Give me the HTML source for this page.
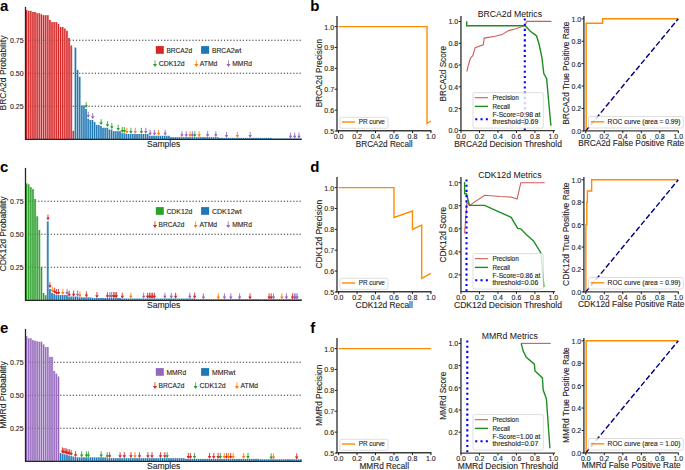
<!DOCTYPE html><html><head><meta charset="utf-8"><title>Figure</title><style>html,body{margin:0;padding:0;background:#fff;}svg{display:block;}text{font-family:"Liberation Sans",sans-serif;}</style></head><body><svg width="685" height="470" viewBox="0 0 685 470" font-family="Liberation Sans, sans-serif">
<rect width="685" height="470" fill="#ffffff"/>
<line x1="25.55" y1="40.20" x2="301.20" y2="40.20" stroke="#4a4a4a" stroke-width="1.15" stroke-dasharray="1.15 2.0"/>
<line x1="25.55" y1="73.20" x2="301.20" y2="73.20" stroke="#4a4a4a" stroke-width="1.15" stroke-dasharray="1.15 2.0"/>
<line x1="25.55" y1="106.20" x2="301.20" y2="106.20" stroke="#4a4a4a" stroke-width="1.15" stroke-dasharray="1.15 2.0"/>
<rect x="25.50" y="10.00" width="2.12" height="129.30" fill="#d62728" />
<rect x="27.62" y="10.90" width="2.12" height="128.40" fill="#d62728" />
<rect x="29.75" y="10.90" width="2.12" height="128.40" fill="#d62728" />
<rect x="31.87" y="12.00" width="2.12" height="127.30" fill="#d62728" />
<rect x="34.00" y="12.00" width="2.12" height="127.30" fill="#d62728" />
<rect x="36.12" y="13.20" width="2.12" height="126.10" fill="#d62728" />
<rect x="38.25" y="13.20" width="2.12" height="126.10" fill="#d62728" />
<rect x="40.37" y="14.30" width="2.12" height="125.00" fill="#d62728" />
<rect x="42.50" y="15.20" width="2.12" height="124.10" fill="#d62728" />
<rect x="44.62" y="15.20" width="2.12" height="124.10" fill="#d62728" />
<rect x="46.75" y="15.20" width="2.12" height="124.10" fill="#d62728" />
<rect x="48.87" y="20.00" width="2.12" height="119.30" fill="#d62728" />
<rect x="51.00" y="22.10" width="2.12" height="117.20" fill="#d62728" />
<rect x="53.12" y="22.10" width="2.12" height="117.20" fill="#d62728" />
<rect x="55.24" y="22.10" width="2.12" height="117.20" fill="#d62728" />
<rect x="57.37" y="23.90" width="2.12" height="115.40" fill="#d62728" />
<rect x="59.49" y="27.00" width="2.12" height="112.30" fill="#d62728" />
<rect x="61.62" y="27.00" width="2.12" height="112.30" fill="#d62728" />
<rect x="63.74" y="28.50" width="2.12" height="110.80" fill="#d62728" />
<rect x="65.87" y="30.80" width="2.12" height="108.50" fill="#d62728" />
<rect x="67.99" y="38.00" width="2.12" height="101.30" fill="#d62728" />
<rect x="70.12" y="45.40" width="2.12" height="93.90" fill="#d62728" />
<rect x="72.24" y="130.80" width="2.12" height="8.50" fill="#d62728" />
<rect x="74.37" y="47.60" width="2.12" height="91.70" fill="#1f77b4" />
<rect x="76.49" y="69.90" width="2.12" height="69.40" fill="#1f77b4" />
<rect x="78.62" y="76.80" width="2.12" height="62.50" fill="#1f77b4" />
<rect x="80.74" y="105.50" width="2.12" height="33.80" fill="#1f77b4" />
<rect x="82.86" y="105.50" width="2.12" height="33.80" fill="#1f77b4" />
<rect x="84.99" y="109.00" width="2.12" height="30.30" fill="#1f77b4" />
<rect x="87.11" y="118.70" width="2.12" height="20.60" fill="#1f77b4" />
<rect x="89.24" y="120.00" width="2.12" height="19.30" fill="#1f77b4" />
<rect x="91.36" y="120.00" width="2.12" height="19.30" fill="#1f77b4" />
<rect x="93.49" y="122.00" width="2.12" height="17.30" fill="#1f77b4" />
<rect x="95.61" y="124.90" width="2.12" height="14.40" fill="#1f77b4" />
<rect x="97.74" y="124.90" width="2.12" height="14.40" fill="#1f77b4" />
<rect x="99.86" y="126.00" width="2.12" height="13.30" fill="#1f77b4" />
<rect x="101.99" y="127.80" width="2.12" height="11.50" fill="#1f77b4" />
<rect x="104.11" y="127.80" width="2.12" height="11.50" fill="#1f77b4" />
<rect x="106.24" y="127.80" width="2.12" height="11.50" fill="#1f77b4" />
<rect x="108.36" y="129.60" width="2.12" height="9.70" fill="#1f77b4" />
<rect x="110.48" y="129.60" width="2.12" height="9.70" fill="#1f77b4" />
<rect x="112.61" y="131.20" width="2.12" height="8.10" fill="#1f77b4" />
<rect x="114.73" y="131.20" width="2.12" height="8.10" fill="#1f77b4" />
<rect x="116.86" y="131.20" width="2.12" height="8.10" fill="#1f77b4" />
<rect x="118.98" y="131.20" width="2.12" height="8.10" fill="#1f77b4" />
<rect x="121.11" y="133.20" width="2.12" height="6.10" fill="#1f77b4" />
<rect x="123.23" y="133.20" width="2.12" height="6.10" fill="#1f77b4" />
<rect x="125.36" y="134.00" width="2.12" height="5.30" fill="#1f77b4" />
<rect x="127.48" y="134.00" width="2.12" height="5.30" fill="#1f77b4" />
<rect x="129.61" y="134.00" width="2.12" height="5.30" fill="#1f77b4" />
<rect x="131.73" y="134.00" width="2.12" height="5.30" fill="#1f77b4" />
<rect x="133.86" y="134.00" width="2.12" height="5.30" fill="#1f77b4" />
<rect x="135.98" y="134.00" width="2.12" height="5.30" fill="#1f77b4" />
<rect x="138.10" y="134.00" width="2.12" height="5.30" fill="#1f77b4" />
<rect x="140.23" y="134.00" width="2.12" height="5.30" fill="#1f77b4" />
<rect x="142.35" y="134.00" width="2.12" height="5.30" fill="#1f77b4" />
<rect x="144.48" y="134.00" width="2.12" height="5.30" fill="#1f77b4" />
<rect x="146.60" y="134.00" width="2.12" height="5.30" fill="#1f77b4" />
<rect x="148.73" y="135.80" width="2.12" height="3.50" fill="#1f77b4" />
<rect x="150.85" y="135.80" width="2.12" height="3.50" fill="#1f77b4" />
<rect x="152.98" y="135.80" width="2.12" height="3.50" fill="#1f77b4" />
<rect x="155.10" y="135.80" width="2.12" height="3.50" fill="#1f77b4" />
<rect x="157.23" y="135.80" width="2.12" height="3.50" fill="#1f77b4" />
<rect x="159.35" y="135.80" width="2.12" height="3.50" fill="#1f77b4" />
<rect x="161.48" y="135.80" width="2.12" height="3.50" fill="#1f77b4" />
<rect x="163.60" y="135.80" width="2.12" height="3.50" fill="#1f77b4" />
<rect x="165.72" y="135.80" width="2.12" height="3.50" fill="#1f77b4" />
<rect x="167.85" y="135.80" width="2.12" height="3.50" fill="#1f77b4" />
<rect x="169.97" y="137.20" width="2.12" height="2.10" fill="#1f77b4" />
<rect x="172.10" y="137.20" width="2.12" height="2.10" fill="#1f77b4" />
<rect x="174.22" y="137.20" width="2.12" height="2.10" fill="#1f77b4" />
<rect x="176.35" y="137.20" width="2.12" height="2.10" fill="#1f77b4" />
<rect x="178.47" y="137.20" width="2.12" height="2.10" fill="#1f77b4" />
<rect x="180.60" y="137.20" width="2.12" height="2.10" fill="#1f77b4" />
<rect x="182.72" y="137.20" width="2.12" height="2.10" fill="#1f77b4" />
<rect x="184.85" y="137.20" width="2.12" height="2.10" fill="#1f77b4" />
<rect x="186.97" y="137.20" width="2.12" height="2.10" fill="#1f77b4" />
<rect x="189.10" y="137.20" width="2.12" height="2.10" fill="#1f77b4" />
<rect x="191.22" y="137.20" width="2.12" height="2.10" fill="#1f77b4" />
<rect x="193.34" y="137.20" width="2.12" height="2.10" fill="#1f77b4" />
<rect x="195.47" y="137.20" width="2.12" height="2.10" fill="#1f77b4" />
<rect x="197.59" y="137.20" width="2.12" height="2.10" fill="#1f77b4" />
<rect x="199.72" y="137.20" width="2.12" height="2.10" fill="#1f77b4" />
<rect x="201.84" y="137.20" width="2.12" height="2.10" fill="#1f77b4" />
<rect x="203.97" y="137.20" width="2.12" height="2.10" fill="#1f77b4" />
<rect x="206.09" y="137.20" width="2.12" height="2.10" fill="#1f77b4" />
<rect x="208.22" y="137.20" width="2.12" height="2.10" fill="#1f77b4" />
<rect x="210.34" y="137.20" width="2.12" height="2.10" fill="#1f77b4" />
<rect x="212.47" y="137.20" width="2.12" height="2.10" fill="#1f77b4" />
<rect x="214.59" y="137.20" width="2.12" height="2.10" fill="#1f77b4" />
<rect x="216.72" y="137.20" width="2.12" height="2.10" fill="#1f77b4" />
<rect x="218.84" y="137.90" width="2.12" height="1.40" fill="#1f77b4" />
<rect x="220.96" y="137.90" width="2.12" height="1.40" fill="#1f77b4" />
<rect x="223.09" y="137.90" width="2.12" height="1.40" fill="#1f77b4" />
<rect x="225.21" y="137.90" width="2.12" height="1.40" fill="#1f77b4" />
<rect x="227.34" y="137.90" width="2.12" height="1.40" fill="#1f77b4" />
<rect x="229.46" y="137.90" width="2.12" height="1.40" fill="#1f77b4" />
<rect x="231.59" y="137.90" width="2.12" height="1.40" fill="#1f77b4" />
<rect x="233.71" y="137.90" width="2.12" height="1.40" fill="#1f77b4" />
<rect x="235.84" y="137.90" width="2.12" height="1.40" fill="#1f77b4" />
<rect x="237.96" y="137.90" width="2.12" height="1.40" fill="#1f77b4" />
<rect x="240.09" y="137.90" width="2.12" height="1.40" fill="#1f77b4" />
<rect x="242.21" y="137.90" width="2.12" height="1.40" fill="#1f77b4" />
<rect x="244.34" y="137.90" width="2.12" height="1.40" fill="#1f77b4" />
<rect x="246.46" y="137.90" width="2.12" height="1.40" fill="#1f77b4" />
<rect x="248.58" y="137.90" width="2.12" height="1.40" fill="#1f77b4" />
<rect x="250.71" y="137.90" width="2.12" height="1.40" fill="#1f77b4" />
<rect x="252.83" y="137.90" width="2.12" height="1.40" fill="#1f77b4" />
<rect x="254.96" y="137.90" width="2.12" height="1.40" fill="#1f77b4" />
<rect x="257.08" y="137.90" width="2.12" height="1.40" fill="#1f77b4" />
<rect x="259.21" y="137.90" width="2.12" height="1.40" fill="#1f77b4" />
<rect x="261.33" y="137.90" width="2.12" height="1.40" fill="#1f77b4" />
<rect x="263.46" y="137.90" width="2.12" height="1.40" fill="#1f77b4" />
<rect x="265.58" y="137.90" width="2.12" height="1.40" fill="#1f77b4" />
<rect x="267.71" y="137.90" width="2.12" height="1.40" fill="#1f77b4" />
<rect x="269.83" y="137.90" width="2.12" height="1.40" fill="#1f77b4" />
<rect x="271.96" y="138.50" width="2.12" height="0.80" fill="#1f77b4" />
<rect x="274.08" y="138.50" width="2.12" height="0.80" fill="#1f77b4" />
<rect x="276.20" y="138.50" width="2.12" height="0.80" fill="#1f77b4" />
<rect x="278.33" y="138.50" width="2.12" height="0.80" fill="#1f77b4" />
<rect x="280.45" y="138.50" width="2.12" height="0.80" fill="#1f77b4" />
<rect x="282.58" y="138.50" width="2.12" height="0.80" fill="#1f77b4" />
<rect x="284.70" y="138.50" width="2.12" height="0.80" fill="#1f77b4" />
<rect x="286.83" y="138.50" width="2.12" height="0.80" fill="#1f77b4" />
<rect x="288.95" y="138.50" width="2.12" height="0.80" fill="#1f77b4" />
<rect x="291.08" y="138.50" width="2.12" height="0.80" fill="#1f77b4" />
<rect x="293.20" y="138.50" width="2.12" height="0.80" fill="#1f77b4" />
<rect x="295.33" y="138.50" width="2.12" height="0.80" fill="#1f77b4" />
<rect x="297.45" y="138.50" width="2.12" height="0.80" fill="#1f77b4" />
<rect x="299.58" y="138.50" width="2.12" height="0.80" fill="#1f77b4" />
<path d="M27.62,10.00V139.30 M29.75,10.90V139.30 M31.87,10.90V139.30 M34.00,12.00V139.30 M36.12,12.00V139.30 M38.25,13.20V139.30 M40.37,13.20V139.30 M42.50,14.30V139.30 M44.62,15.20V139.30 M46.75,15.20V139.30 M48.87,15.20V139.30 M51.00,20.00V139.30 M53.12,22.10V139.30 M55.24,22.10V139.30 M57.37,22.10V139.30 M59.49,23.90V139.30 M61.62,27.00V139.30 M63.74,27.00V139.30 M65.87,28.50V139.30 M67.99,30.80V139.30 M70.12,38.00V139.30 M72.24,45.40V139.30 M74.37,47.60V139.30 M76.49,47.60V139.30 M78.62,69.90V139.30 M80.74,76.80V139.30 M82.86,105.50V139.30 M84.99,105.50V139.30 M87.11,109.00V139.30 M89.24,118.70V139.30 M91.36,120.00V139.30 M93.49,120.00V139.30 M95.61,122.00V139.30 M97.74,124.90V139.30 M99.86,124.90V139.30 M101.99,126.00V139.30 M104.11,127.80V139.30 M106.24,127.80V139.30 M108.36,127.80V139.30 M110.48,129.60V139.30 M112.61,129.60V139.30 M114.73,131.20V139.30 M116.86,131.20V139.30 M118.98,131.20V139.30 M121.11,131.20V139.30 M123.23,133.20V139.30 M125.36,133.20V139.30 M127.48,134.00V139.30 M129.61,134.00V139.30 M131.73,134.00V139.30 M133.86,134.00V139.30 M135.98,134.00V139.30 M138.10,134.00V139.30 M140.23,134.00V139.30 M142.35,134.00V139.30 M144.48,134.00V139.30 M146.60,134.00V139.30 M148.73,134.00V139.30 M150.85,135.80V139.30 M152.98,135.80V139.30 M155.10,135.80V139.30 M157.23,135.80V139.30 M159.35,135.80V139.30 M161.48,135.80V139.30 M163.60,135.80V139.30 M165.72,135.80V139.30 M167.85,135.80V139.30 M169.97,135.80V139.30 M172.10,137.20V139.30 M174.22,137.20V139.30 M176.35,137.20V139.30 M178.47,137.20V139.30 M180.60,137.20V139.30 M182.72,137.20V139.30 M184.85,137.20V139.30 M186.97,137.20V139.30 M189.10,137.20V139.30 M191.22,137.20V139.30 M193.34,137.20V139.30 M195.47,137.20V139.30 M197.59,137.20V139.30 M199.72,137.20V139.30 M201.84,137.20V139.30 M203.97,137.20V139.30 M206.09,137.20V139.30 M208.22,137.20V139.30 M210.34,137.20V139.30 M212.47,137.20V139.30 M214.59,137.20V139.30 M216.72,137.20V139.30 M218.84,137.20V139.30 M220.96,137.90V139.30 M223.09,137.90V139.30 M225.21,137.90V139.30 M227.34,137.90V139.30 M229.46,137.90V139.30 M231.59,137.90V139.30 M233.71,137.90V139.30 M235.84,137.90V139.30 M237.96,137.90V139.30 M240.09,137.90V139.30 M242.21,137.90V139.30 M244.34,137.90V139.30 M246.46,137.90V139.30 M248.58,137.90V139.30 M250.71,137.90V139.30 M252.83,137.90V139.30 M254.96,137.90V139.30 M257.08,137.90V139.30 M259.21,137.90V139.30 M261.33,137.90V139.30 M263.46,137.90V139.30 M265.58,137.90V139.30 M267.71,137.90V139.30 M269.83,137.90V139.30 M271.96,137.90V139.30 M274.08,138.50V139.30 M276.20,138.50V139.30 M278.33,138.50V139.30 M280.45,138.50V139.30 M282.58,138.50V139.30 M284.70,138.50V139.30 M286.83,138.50V139.30 M288.95,138.50V139.30 M291.08,138.50V139.30 M293.20,138.50V139.30 M295.33,138.50V139.30 M297.45,138.50V139.30 M299.58,138.50V139.30" stroke="#ffffff" stroke-width="0.55" stroke-opacity="0.8"/>
<line x1="25.55" y1="40.20" x2="301.20" y2="40.20" stroke="#3c3c3c" stroke-width="1.15" stroke-dasharray="1.15 2.0" stroke-opacity="0.3"/>
<line x1="25.55" y1="73.20" x2="301.20" y2="73.20" stroke="#3c3c3c" stroke-width="1.15" stroke-dasharray="1.15 2.0" stroke-opacity="0.3"/>
<line x1="25.55" y1="106.20" x2="301.20" y2="106.20" stroke="#3c3c3c" stroke-width="1.15" stroke-dasharray="1.15 2.0" stroke-opacity="0.3"/>
<g fill="#2ca02c"><rect x="85.65" y="102.10" width="1.1" height="4.10" fill-opacity="0.8"/><path d="M84.50,105.20 L87.90,105.20 L86.50,107.70 L85.90,107.70 Z"/></g>
<g fill="#9467bd"><rect x="87.75" y="111.80" width="1.1" height="4.10" fill-opacity="0.8"/><path d="M86.60,114.90 L90.00,114.90 L88.60,117.40 L88.00,117.40 Z"/></g>
<g fill="#9467bd"><rect x="92.15" y="113.10" width="1.1" height="4.10" fill-opacity="0.8"/><path d="M91.00,116.20 L94.40,116.20 L93.00,118.70 L92.40,118.70 Z"/></g>
<g fill="#2ca02c"><rect x="100.55" y="119.17" width="1.1" height="4.10" fill-opacity="0.8"/><path d="M99.40,122.27 L102.80,122.27 L101.40,124.77 L100.80,124.77 Z"/></g>
<g fill="#2ca02c"><rect x="106.95" y="121.12" width="1.1" height="4.10" fill-opacity="0.8"/><path d="M105.80,124.22 L109.20,124.22 L107.80,126.72 L107.20,126.72 Z"/></g>
<g fill="#2ca02c"><rect x="111.25" y="123.06" width="1.1" height="4.10" fill-opacity="0.8"/><path d="M110.10,126.16 L113.50,126.16 L112.10,128.66 L111.50,128.66 Z"/></g>
<g fill="#2ca02c"><rect x="117.65" y="124.79" width="1.1" height="4.10" fill-opacity="0.8"/><path d="M116.50,127.89 L119.90,127.89 L118.50,130.39 L117.90,130.39 Z"/></g>
<g fill="#2ca02c"><rect x="121.75" y="126.95" width="1.1" height="4.10" fill-opacity="0.8"/><path d="M120.60,130.05 L124.00,130.05 L122.60,132.55 L122.00,132.55 Z"/></g>
<g fill="#2ca02c"><rect x="123.75" y="126.95" width="1.1" height="4.10" fill-opacity="0.8"/><path d="M122.60,130.05 L126.00,130.05 L124.60,132.55 L124.00,132.55 Z"/></g>
<g fill="#ff7f0e"><rect x="126.25" y="127.81" width="1.1" height="4.10" fill-opacity="0.8"/><path d="M125.10,130.91 L128.50,130.91 L127.10,133.41 L126.50,133.41 Z"/></g>
<g fill="#2ca02c"><rect x="130.35" y="127.81" width="1.1" height="4.10" fill-opacity="0.8"/><path d="M129.20,130.91 L132.60,130.91 L131.20,133.41 L130.60,133.41 Z"/></g>
<g fill="#ff7f0e"><rect x="134.75" y="127.81" width="1.1" height="4.10" fill-opacity="0.8"/><path d="M133.60,130.91 L137.00,130.91 L135.60,133.41 L135.00,133.41 Z"/></g>
<g fill="#2ca02c"><rect x="140.85" y="127.81" width="1.1" height="4.10" fill-opacity="0.8"/><path d="M139.70,130.91 L143.10,130.91 L141.70,133.41 L141.10,133.41 Z"/></g>
<g fill="#9467bd"><rect x="145.25" y="127.81" width="1.1" height="4.10" fill-opacity="0.8"/><path d="M144.10,130.91 L147.50,130.91 L146.10,133.41 L145.50,133.41 Z"/></g>
<g fill="#9467bd"><rect x="149.55" y="129.76" width="1.1" height="4.10" fill-opacity="0.8"/><path d="M148.40,132.86 L151.80,132.86 L150.40,135.36 L149.80,135.36 Z"/></g>
<g fill="#9467bd"><rect x="153.95" y="129.76" width="1.1" height="4.10" fill-opacity="0.8"/><path d="M152.80,132.86 L156.20,132.86 L154.80,135.36 L154.20,135.36 Z"/></g>
<g fill="#ff7f0e"><rect x="158.05" y="129.76" width="1.1" height="4.10" fill-opacity="0.8"/><path d="M156.90,132.86 L160.30,132.86 L158.90,135.36 L158.30,135.36 Z"/></g>
<g fill="#9467bd"><rect x="164.65" y="129.76" width="1.1" height="4.10" fill-opacity="0.8"/><path d="M163.50,132.86 L166.90,132.86 L165.50,135.36 L164.90,135.36 Z"/></g>
<g fill="#9467bd"><rect x="181.35" y="131.27" width="1.1" height="4.10" fill-opacity="0.8"/><path d="M180.20,134.37 L183.60,134.37 L182.20,136.87 L181.60,136.87 Z"/></g>
<g fill="#9467bd"><rect x="185.75" y="131.27" width="1.1" height="4.10" fill-opacity="0.8"/><path d="M184.60,134.37 L188.00,134.37 L186.60,136.87 L186.00,136.87 Z"/></g>
<g fill="#ff7f0e"><rect x="189.55" y="131.27" width="1.1" height="4.10" fill-opacity="0.8"/><path d="M188.40,134.37 L191.80,134.37 L190.40,136.87 L189.80,136.87 Z"/></g>
<g fill="#9467bd"><rect x="191.85" y="131.27" width="1.1" height="4.10" fill-opacity="0.8"/><path d="M190.70,134.37 L194.10,134.37 L192.70,136.87 L192.10,136.87 Z"/></g>
<g fill="#2ca02c"><rect x="194.25" y="131.27" width="1.1" height="4.10" fill-opacity="0.8"/><path d="M193.10,134.37 L196.50,134.37 L195.10,136.87 L194.50,136.87 Z"/></g>
<g fill="#ff7f0e"><rect x="198.55" y="131.27" width="1.1" height="4.10" fill-opacity="0.8"/><path d="M197.40,134.37 L200.80,134.37 L199.40,136.87 L198.80,136.87 Z"/></g>
<g fill="#9467bd"><rect x="207.05" y="131.27" width="1.1" height="4.10" fill-opacity="0.8"/><path d="M205.90,134.37 L209.30,134.37 L207.90,136.87 L207.30,136.87 Z"/></g>
<g fill="#9467bd"><rect x="215.25" y="131.27" width="1.1" height="4.10" fill-opacity="0.8"/><path d="M214.10,134.37 L217.50,134.37 L216.10,136.87 L215.50,136.87 Z"/></g>
<g fill="#9467bd"><rect x="225.95" y="132.02" width="1.1" height="4.10" fill-opacity="0.8"/><path d="M224.80,135.12 L228.20,135.12 L226.80,137.62 L226.20,137.62 Z"/></g>
<g fill="#ff7f0e"><rect x="236.85" y="132.02" width="1.1" height="4.10" fill-opacity="0.8"/><path d="M235.70,135.12 L239.10,135.12 L237.70,137.62 L237.10,137.62 Z"/></g>
<g fill="#9467bd"><rect x="249.65" y="132.02" width="1.1" height="4.10" fill-opacity="0.8"/><path d="M248.50,135.12 L251.90,135.12 L250.50,137.62 L249.90,137.62 Z"/></g>
<g fill="#9467bd"><rect x="289.95" y="132.67" width="1.1" height="4.10" fill-opacity="0.8"/><path d="M288.80,135.77 L292.20,135.77 L290.80,138.27 L290.20,138.27 Z"/></g>
<g fill="#9467bd"><rect x="294.15" y="132.67" width="1.1" height="4.10" fill-opacity="0.8"/><path d="M293.00,135.77 L296.40,135.77 L295.00,138.27 L294.40,138.27 Z"/></g>
<g fill="#9467bd"><rect x="298.45" y="132.67" width="1.1" height="4.10" fill-opacity="0.8"/><path d="M297.30,135.77 L300.70,135.77 L299.30,138.27 L298.70,138.27 Z"/></g>
<line x1="25.50" y1="6.90" x2="25.50" y2="139.80" stroke="#262626" stroke-width="1.3" />
<line x1="25.00" y1="139.30" x2="301.70" y2="139.30" stroke="#262626" stroke-width="1.3" />
<text transform="translate(23.60,42.80)" text-anchor="end" font-size="7.00" fill="#262626" stroke="#262626" stroke-width="0.12" textLength="13.58" lengthAdjust="spacingAndGlyphs">0.75</text>
<text transform="translate(23.60,75.70)" text-anchor="end" font-size="7.00" fill="#262626" stroke="#262626" stroke-width="0.12" textLength="13.58" lengthAdjust="spacingAndGlyphs">0.50</text>
<text transform="translate(23.60,108.60)" text-anchor="end" font-size="7.00" fill="#262626" stroke="#262626" stroke-width="0.12" textLength="13.58" lengthAdjust="spacingAndGlyphs">0.25</text>
<text transform="translate(5.90,73.00) rotate(-90)" text-anchor="middle" font-size="8.40" fill="#262626" stroke="#262626" stroke-width="0.12" textLength="74.79" lengthAdjust="spacingAndGlyphs">BRCA2d Probability</text>
<text transform="translate(163.60,146.70)" text-anchor="middle" font-size="8.40" fill="#262626" stroke="#262626" stroke-width="0.12" textLength="33.31" lengthAdjust="spacingAndGlyphs">Samples</text>
<text x="0.00" y="11.10" font-size="15" font-weight="bold" fill="#000">a</text>
<rect x="155.80" y="46.10" width="8.00" height="7.70" fill="#d62728" />
<text transform="translate(166.40,53.00)" text-anchor="start" font-size="7.30" fill="#262626" stroke="#262626" stroke-width="0.12" textLength="25.70" lengthAdjust="spacingAndGlyphs">BRCA2d</text>
<rect x="201.10" y="46.10" width="8.00" height="7.70" fill="#1f77b4" />
<text transform="translate(211.90,53.00)" text-anchor="start" font-size="7.30" fill="#262626" stroke="#262626" stroke-width="0.12" textLength="29.41" lengthAdjust="spacingAndGlyphs">BRCA2wt</text>
<g fill="#2ca02c"><rect x="154.55" y="60.30" width="0.9" height="4.6" fill-opacity="0.85"/><path d="M152.90,64.00 L157.10,64.00 L155.00,66.90 Z"/></g>
<text transform="translate(158.70,66.40)" text-anchor="start" font-size="7.30" fill="#262626" stroke="#262626" stroke-width="0.12" textLength="26.00" lengthAdjust="spacingAndGlyphs">CDK12d</text>
<g fill="#ff7f0e"><rect x="195.85" y="60.30" width="0.9" height="4.6" fill-opacity="0.85"/><path d="M194.20,64.00 L198.40,64.00 L196.30,66.90 Z"/></g>
<text transform="translate(199.80,66.40)" text-anchor="start" font-size="7.30" fill="#262626" stroke="#262626" stroke-width="0.12" textLength="17.51" lengthAdjust="spacingAndGlyphs">ATMd</text>
<g fill="#9467bd"><rect x="228.05" y="60.30" width="0.9" height="4.6" fill-opacity="0.85"/><path d="M226.40,64.00 L230.60,64.00 L228.50,66.90 Z"/></g>
<text transform="translate(232.30,66.40)" text-anchor="start" font-size="7.30" fill="#262626" stroke="#262626" stroke-width="0.12" textLength="19.71" lengthAdjust="spacingAndGlyphs">MMRd</text>
<line x1="25.55" y1="201.20" x2="301.20" y2="201.20" stroke="#4a4a4a" stroke-width="1.15" stroke-dasharray="1.15 2.0"/>
<line x1="25.55" y1="234.20" x2="301.20" y2="234.20" stroke="#4a4a4a" stroke-width="1.15" stroke-dasharray="1.15 2.0"/>
<line x1="25.55" y1="267.20" x2="301.20" y2="267.20" stroke="#4a4a4a" stroke-width="1.15" stroke-dasharray="1.15 2.0"/>
<rect x="25.50" y="183.40" width="2.12" height="116.90" fill="#2ca02c" />
<rect x="27.62" y="184.30" width="2.12" height="116.00" fill="#2ca02c" />
<rect x="29.75" y="187.10" width="2.12" height="113.20" fill="#2ca02c" />
<rect x="31.87" y="189.10" width="2.12" height="111.20" fill="#2ca02c" />
<rect x="34.00" y="198.90" width="2.12" height="101.40" fill="#2ca02c" />
<rect x="36.12" y="216.30" width="2.12" height="84.00" fill="#2ca02c" />
<rect x="38.25" y="229.90" width="2.12" height="70.40" fill="#2ca02c" />
<rect x="40.37" y="267.20" width="2.12" height="33.10" fill="#2ca02c" />
<rect x="42.50" y="293.00" width="2.12" height="7.30" fill="#2ca02c" />
<rect x="44.62" y="295.20" width="2.12" height="5.10" fill="#2ca02c" />
<rect x="46.75" y="221.40" width="2.12" height="78.90" fill="#1f77b4" />
<rect x="48.87" y="288.90" width="2.12" height="11.40" fill="#1f77b4" />
<rect x="51.00" y="292.90" width="2.12" height="7.40" fill="#1f77b4" />
<rect x="53.12" y="293.90" width="2.12" height="6.40" fill="#1f77b4" />
<rect x="55.24" y="295.10" width="2.12" height="5.20" fill="#1f77b4" />
<rect x="57.37" y="295.10" width="2.12" height="5.20" fill="#1f77b4" />
<rect x="59.49" y="295.10" width="2.12" height="5.20" fill="#1f77b4" />
<rect x="61.62" y="295.10" width="2.12" height="5.20" fill="#1f77b4" />
<rect x="63.74" y="295.10" width="2.12" height="5.20" fill="#1f77b4" />
<rect x="65.87" y="295.10" width="2.12" height="5.20" fill="#1f77b4" />
<rect x="67.99" y="296.60" width="2.12" height="3.70" fill="#1f77b4" />
<rect x="70.12" y="296.60" width="2.12" height="3.70" fill="#1f77b4" />
<rect x="72.24" y="296.60" width="2.12" height="3.70" fill="#1f77b4" />
<rect x="74.37" y="296.60" width="2.12" height="3.70" fill="#1f77b4" />
<rect x="76.49" y="296.60" width="2.12" height="3.70" fill="#1f77b4" />
<rect x="78.62" y="297.40" width="2.12" height="2.90" fill="#1f77b4" />
<rect x="80.74" y="297.40" width="2.12" height="2.90" fill="#1f77b4" />
<rect x="82.86" y="297.40" width="2.12" height="2.90" fill="#1f77b4" />
<rect x="84.99" y="297.40" width="2.12" height="2.90" fill="#1f77b4" />
<rect x="87.11" y="297.40" width="2.12" height="2.90" fill="#1f77b4" />
<rect x="89.24" y="297.40" width="2.12" height="2.90" fill="#1f77b4" />
<rect x="91.36" y="298.00" width="2.12" height="2.30" fill="#1f77b4" />
<rect x="93.49" y="298.00" width="2.12" height="2.30" fill="#1f77b4" />
<rect x="95.61" y="298.00" width="2.12" height="2.30" fill="#1f77b4" />
<rect x="97.74" y="298.00" width="2.12" height="2.30" fill="#1f77b4" />
<rect x="99.86" y="298.00" width="2.12" height="2.30" fill="#1f77b4" />
<rect x="101.99" y="298.00" width="2.12" height="2.30" fill="#1f77b4" />
<rect x="104.11" y="298.00" width="2.12" height="2.30" fill="#1f77b4" />
<rect x="106.24" y="298.00" width="2.12" height="2.30" fill="#1f77b4" />
<rect x="108.36" y="298.00" width="2.12" height="2.30" fill="#1f77b4" />
<rect x="110.48" y="298.00" width="2.12" height="2.30" fill="#1f77b4" />
<rect x="112.61" y="298.00" width="2.12" height="2.30" fill="#1f77b4" />
<rect x="114.73" y="298.00" width="2.12" height="2.30" fill="#1f77b4" />
<rect x="116.86" y="298.00" width="2.12" height="2.30" fill="#1f77b4" />
<rect x="118.98" y="298.00" width="2.12" height="2.30" fill="#1f77b4" />
<rect x="121.11" y="298.60" width="2.12" height="1.70" fill="#1f77b4" />
<rect x="123.23" y="298.60" width="2.12" height="1.70" fill="#1f77b4" />
<rect x="125.36" y="298.60" width="2.12" height="1.70" fill="#1f77b4" />
<rect x="127.48" y="298.60" width="2.12" height="1.70" fill="#1f77b4" />
<rect x="129.61" y="298.60" width="2.12" height="1.70" fill="#1f77b4" />
<rect x="131.73" y="298.60" width="2.12" height="1.70" fill="#1f77b4" />
<rect x="133.86" y="298.60" width="2.12" height="1.70" fill="#1f77b4" />
<rect x="135.98" y="298.60" width="2.12" height="1.70" fill="#1f77b4" />
<rect x="138.10" y="298.60" width="2.12" height="1.70" fill="#1f77b4" />
<rect x="140.23" y="298.60" width="2.12" height="1.70" fill="#1f77b4" />
<rect x="142.35" y="298.60" width="2.12" height="1.70" fill="#1f77b4" />
<rect x="144.48" y="298.60" width="2.12" height="1.70" fill="#1f77b4" />
<rect x="146.60" y="298.60" width="2.12" height="1.70" fill="#1f77b4" />
<rect x="148.73" y="298.60" width="2.12" height="1.70" fill="#1f77b4" />
<rect x="150.85" y="298.60" width="2.12" height="1.70" fill="#1f77b4" />
<rect x="152.98" y="298.60" width="2.12" height="1.70" fill="#1f77b4" />
<rect x="155.10" y="298.60" width="2.12" height="1.70" fill="#1f77b4" />
<rect x="157.23" y="298.60" width="2.12" height="1.70" fill="#1f77b4" />
<rect x="159.35" y="298.60" width="2.12" height="1.70" fill="#1f77b4" />
<rect x="161.48" y="298.60" width="2.12" height="1.70" fill="#1f77b4" />
<rect x="163.60" y="298.60" width="2.12" height="1.70" fill="#1f77b4" />
<rect x="165.72" y="298.60" width="2.12" height="1.70" fill="#1f77b4" />
<rect x="167.85" y="298.60" width="2.12" height="1.70" fill="#1f77b4" />
<rect x="169.97" y="298.60" width="2.12" height="1.70" fill="#1f77b4" />
<rect x="172.10" y="298.60" width="2.12" height="1.70" fill="#1f77b4" />
<rect x="174.22" y="298.60" width="2.12" height="1.70" fill="#1f77b4" />
<rect x="176.35" y="298.60" width="2.12" height="1.70" fill="#1f77b4" />
<rect x="178.47" y="298.60" width="2.12" height="1.70" fill="#1f77b4" />
<rect x="180.60" y="298.60" width="2.12" height="1.70" fill="#1f77b4" />
<rect x="182.72" y="298.60" width="2.12" height="1.70" fill="#1f77b4" />
<rect x="184.85" y="298.60" width="2.12" height="1.70" fill="#1f77b4" />
<rect x="186.97" y="298.60" width="2.12" height="1.70" fill="#1f77b4" />
<rect x="189.10" y="298.60" width="2.12" height="1.70" fill="#1f77b4" />
<rect x="191.22" y="298.60" width="2.12" height="1.70" fill="#1f77b4" />
<rect x="193.34" y="298.60" width="2.12" height="1.70" fill="#1f77b4" />
<rect x="195.47" y="299.20" width="2.12" height="1.10" fill="#1f77b4" />
<rect x="197.59" y="299.20" width="2.12" height="1.10" fill="#1f77b4" />
<rect x="199.72" y="299.20" width="2.12" height="1.10" fill="#1f77b4" />
<rect x="201.84" y="299.20" width="2.12" height="1.10" fill="#1f77b4" />
<rect x="203.97" y="299.20" width="2.12" height="1.10" fill="#1f77b4" />
<rect x="206.09" y="299.20" width="2.12" height="1.10" fill="#1f77b4" />
<rect x="208.22" y="299.20" width="2.12" height="1.10" fill="#1f77b4" />
<rect x="210.34" y="299.20" width="2.12" height="1.10" fill="#1f77b4" />
<rect x="212.47" y="299.20" width="2.12" height="1.10" fill="#1f77b4" />
<rect x="214.59" y="299.20" width="2.12" height="1.10" fill="#1f77b4" />
<rect x="216.72" y="299.20" width="2.12" height="1.10" fill="#1f77b4" />
<rect x="218.84" y="299.20" width="2.12" height="1.10" fill="#1f77b4" />
<rect x="220.96" y="299.20" width="2.12" height="1.10" fill="#1f77b4" />
<rect x="223.09" y="299.20" width="2.12" height="1.10" fill="#1f77b4" />
<rect x="225.21" y="299.20" width="2.12" height="1.10" fill="#1f77b4" />
<rect x="227.34" y="299.20" width="2.12" height="1.10" fill="#1f77b4" />
<rect x="229.46" y="299.20" width="2.12" height="1.10" fill="#1f77b4" />
<rect x="231.59" y="299.20" width="2.12" height="1.10" fill="#1f77b4" />
<rect x="233.71" y="299.20" width="2.12" height="1.10" fill="#1f77b4" />
<rect x="235.84" y="299.20" width="2.12" height="1.10" fill="#1f77b4" />
<rect x="237.96" y="299.20" width="2.12" height="1.10" fill="#1f77b4" />
<rect x="240.09" y="299.20" width="2.12" height="1.10" fill="#1f77b4" />
<rect x="242.21" y="299.20" width="2.12" height="1.10" fill="#1f77b4" />
<rect x="244.34" y="299.20" width="2.12" height="1.10" fill="#1f77b4" />
<rect x="246.46" y="299.20" width="2.12" height="1.10" fill="#1f77b4" />
<rect x="248.58" y="299.20" width="2.12" height="1.10" fill="#1f77b4" />
<rect x="250.71" y="299.20" width="2.12" height="1.10" fill="#1f77b4" />
<rect x="252.83" y="299.20" width="2.12" height="1.10" fill="#1f77b4" />
<rect x="254.96" y="299.20" width="2.12" height="1.10" fill="#1f77b4" />
<rect x="257.08" y="299.20" width="2.12" height="1.10" fill="#1f77b4" />
<rect x="259.21" y="299.20" width="2.12" height="1.10" fill="#1f77b4" />
<rect x="261.33" y="299.20" width="2.12" height="1.10" fill="#1f77b4" />
<rect x="263.46" y="299.20" width="2.12" height="1.10" fill="#1f77b4" />
<rect x="265.58" y="299.20" width="2.12" height="1.10" fill="#1f77b4" />
<rect x="267.71" y="299.20" width="2.12" height="1.10" fill="#1f77b4" />
<rect x="269.83" y="299.20" width="2.12" height="1.10" fill="#1f77b4" />
<rect x="271.96" y="299.20" width="2.12" height="1.10" fill="#1f77b4" />
<rect x="274.08" y="299.20" width="2.12" height="1.10" fill="#1f77b4" />
<rect x="276.20" y="299.20" width="2.12" height="1.10" fill="#1f77b4" />
<rect x="278.33" y="299.20" width="2.12" height="1.10" fill="#1f77b4" />
<rect x="280.45" y="299.20" width="2.12" height="1.10" fill="#1f77b4" />
<rect x="282.58" y="299.20" width="2.12" height="1.10" fill="#1f77b4" />
<rect x="284.70" y="299.20" width="2.12" height="1.10" fill="#1f77b4" />
<rect x="286.83" y="299.20" width="2.12" height="1.10" fill="#1f77b4" />
<rect x="288.95" y="299.20" width="2.12" height="1.10" fill="#1f77b4" />
<rect x="291.08" y="299.20" width="2.12" height="1.10" fill="#1f77b4" />
<rect x="293.20" y="299.20" width="2.12" height="1.10" fill="#1f77b4" />
<rect x="295.33" y="299.20" width="2.12" height="1.10" fill="#1f77b4" />
<rect x="297.45" y="299.20" width="2.12" height="1.10" fill="#1f77b4" />
<rect x="299.58" y="299.20" width="2.12" height="1.10" fill="#1f77b4" />
<path d="M27.62,183.40V300.30 M29.75,184.30V300.30 M31.87,187.10V300.30 M34.00,189.10V300.30 M36.12,198.90V300.30 M38.25,216.30V300.30 M40.37,229.90V300.30 M42.50,267.20V300.30 M44.62,293.00V300.30 M46.75,221.40V300.30 M48.87,221.40V300.30 M51.00,288.90V300.30 M53.12,292.90V300.30 M55.24,293.90V300.30 M57.37,295.10V300.30 M59.49,295.10V300.30 M61.62,295.10V300.30 M63.74,295.10V300.30 M65.87,295.10V300.30 M67.99,295.10V300.30 M70.12,296.60V300.30 M72.24,296.60V300.30 M74.37,296.60V300.30 M76.49,296.60V300.30 M78.62,296.60V300.30 M80.74,297.40V300.30 M82.86,297.40V300.30 M84.99,297.40V300.30 M87.11,297.40V300.30 M89.24,297.40V300.30 M91.36,297.40V300.30 M93.49,298.00V300.30 M95.61,298.00V300.30 M97.74,298.00V300.30 M99.86,298.00V300.30 M101.99,298.00V300.30 M104.11,298.00V300.30 M106.24,298.00V300.30 M108.36,298.00V300.30 M110.48,298.00V300.30 M112.61,298.00V300.30 M114.73,298.00V300.30 M116.86,298.00V300.30 M118.98,298.00V300.30 M121.11,298.00V300.30 M123.23,298.60V300.30 M125.36,298.60V300.30 M127.48,298.60V300.30 M129.61,298.60V300.30 M131.73,298.60V300.30 M133.86,298.60V300.30 M135.98,298.60V300.30 M138.10,298.60V300.30 M140.23,298.60V300.30 M142.35,298.60V300.30 M144.48,298.60V300.30 M146.60,298.60V300.30 M148.73,298.60V300.30 M150.85,298.60V300.30 M152.98,298.60V300.30 M155.10,298.60V300.30 M157.23,298.60V300.30 M159.35,298.60V300.30 M161.48,298.60V300.30 M163.60,298.60V300.30 M165.72,298.60V300.30 M167.85,298.60V300.30 M169.97,298.60V300.30 M172.10,298.60V300.30 M174.22,298.60V300.30 M176.35,298.60V300.30 M178.47,298.60V300.30 M180.60,298.60V300.30 M182.72,298.60V300.30 M184.85,298.60V300.30 M186.97,298.60V300.30 M189.10,298.60V300.30 M191.22,298.60V300.30 M193.34,298.60V300.30 M195.47,298.60V300.30 M197.59,299.20V300.30 M199.72,299.20V300.30 M201.84,299.20V300.30 M203.97,299.20V300.30 M206.09,299.20V300.30 M208.22,299.20V300.30 M210.34,299.20V300.30 M212.47,299.20V300.30 M214.59,299.20V300.30 M216.72,299.20V300.30 M218.84,299.20V300.30 M220.96,299.20V300.30 M223.09,299.20V300.30 M225.21,299.20V300.30 M227.34,299.20V300.30 M229.46,299.20V300.30 M231.59,299.20V300.30 M233.71,299.20V300.30 M235.84,299.20V300.30 M237.96,299.20V300.30 M240.09,299.20V300.30 M242.21,299.20V300.30 M244.34,299.20V300.30 M246.46,299.20V300.30 M248.58,299.20V300.30 M250.71,299.20V300.30 M252.83,299.20V300.30 M254.96,299.20V300.30 M257.08,299.20V300.30 M259.21,299.20V300.30 M261.33,299.20V300.30 M263.46,299.20V300.30 M265.58,299.20V300.30 M267.71,299.20V300.30 M269.83,299.20V300.30 M271.96,299.20V300.30 M274.08,299.20V300.30 M276.20,299.20V300.30 M278.33,299.20V300.30 M280.45,299.20V300.30 M282.58,299.20V300.30 M284.70,299.20V300.30 M286.83,299.20V300.30 M288.95,299.20V300.30 M291.08,299.20V300.30 M293.20,299.20V300.30 M295.33,299.20V300.30 M297.45,299.20V300.30 M299.58,299.20V300.30" stroke="#ffffff" stroke-width="0.55" stroke-opacity="0.8"/>
<line x1="25.55" y1="201.20" x2="301.20" y2="201.20" stroke="#3c3c3c" stroke-width="1.15" stroke-dasharray="1.15 2.0" stroke-opacity="0.3"/>
<line x1="25.55" y1="234.20" x2="301.20" y2="234.20" stroke="#3c3c3c" stroke-width="1.15" stroke-dasharray="1.15 2.0" stroke-opacity="0.3"/>
<line x1="25.55" y1="267.20" x2="301.20" y2="267.20" stroke="#3c3c3c" stroke-width="1.15" stroke-dasharray="1.15 2.0" stroke-opacity="0.3"/>
<g fill="#d62728"><rect x="47.45" y="214.50" width="1.1" height="4.10" fill-opacity="0.8"/><path d="M46.30,217.60 L49.70,217.60 L48.30,220.10 L47.70,220.10 Z"/></g>
<g fill="#d62728"><rect x="49.35" y="282.22" width="1.1" height="4.10" fill-opacity="0.8"/><path d="M48.20,285.32 L51.60,285.32 L50.20,287.82 L49.60,287.82 Z"/></g>
<g fill="#ff7f0e"><rect x="51.75" y="286.54" width="1.1" height="4.10" fill-opacity="0.8"/><path d="M50.60,289.64 L54.00,289.64 L52.60,292.14 L52.00,292.14 Z"/></g>
<g fill="#d62728"><rect x="54.05" y="287.62" width="1.1" height="4.10" fill-opacity="0.8"/><path d="M52.90,290.72 L56.30,290.72 L54.90,293.22 L54.30,293.22 Z"/></g>
<g fill="#d62728"><rect x="56.05" y="288.92" width="1.1" height="4.10" fill-opacity="0.8"/><path d="M54.90,292.02 L58.30,292.02 L56.90,294.52 L56.30,294.52 Z"/></g>
<g fill="#d62728"><rect x="57.95" y="288.92" width="1.1" height="4.10" fill-opacity="0.8"/><path d="M56.80,292.02 L60.20,292.02 L58.80,294.52 L58.20,294.52 Z"/></g>
<g fill="#ff7f0e"><rect x="62.25" y="288.92" width="1.1" height="4.10" fill-opacity="0.8"/><path d="M61.10,292.02 L64.50,292.02 L63.10,294.52 L62.50,294.52 Z"/></g>
<g fill="#9467bd"><rect x="66.55" y="288.92" width="1.1" height="4.10" fill-opacity="0.8"/><path d="M65.40,292.02 L68.80,292.02 L67.40,294.52 L66.80,294.52 Z"/></g>
<g fill="#d62728"><rect x="68.65" y="290.54" width="1.1" height="4.10" fill-opacity="0.8"/><path d="M67.50,293.64 L70.90,293.64 L69.50,296.14 L68.90,296.14 Z"/></g>
<g fill="#d62728"><rect x="73.05" y="290.54" width="1.1" height="4.10" fill-opacity="0.8"/><path d="M71.90,293.64 L75.30,293.64 L73.90,296.14 L73.30,296.14 Z"/></g>
<g fill="#9467bd"><rect x="77.05" y="290.54" width="1.1" height="4.10" fill-opacity="0.8"/><path d="M75.90,293.64 L79.30,293.64 L77.90,296.14 L77.30,296.14 Z"/></g>
<g fill="#ff7f0e"><rect x="79.35" y="291.40" width="1.1" height="4.10" fill-opacity="0.8"/><path d="M78.20,294.50 L81.60,294.50 L80.20,297.00 L79.60,297.00 Z"/></g>
<g fill="#d62728"><rect x="85.85" y="291.40" width="1.1" height="4.10" fill-opacity="0.8"/><path d="M84.70,294.50 L88.10,294.50 L86.70,297.00 L86.10,297.00 Z"/></g>
<g fill="#d62728"><rect x="96.35" y="292.05" width="1.1" height="4.10" fill-opacity="0.8"/><path d="M95.20,295.15 L98.60,295.15 L97.20,297.65 L96.60,297.65 Z"/></g>
<g fill="#d62728"><rect x="106.85" y="292.05" width="1.1" height="4.10" fill-opacity="0.8"/><path d="M105.70,295.15 L109.10,295.15 L107.70,297.65 L107.10,297.65 Z"/></g>
<g fill="#9467bd"><rect x="109.25" y="292.05" width="1.1" height="4.10" fill-opacity="0.8"/><path d="M108.10,295.15 L111.50,295.15 L110.10,297.65 L109.50,297.65 Z"/></g>
<g fill="#9467bd"><rect x="110.95" y="292.05" width="1.1" height="4.10" fill-opacity="0.8"/><path d="M109.80,295.15 L113.20,295.15 L111.80,297.65 L111.20,297.65 Z"/></g>
<g fill="#d62728"><rect x="113.05" y="292.05" width="1.1" height="4.10" fill-opacity="0.8"/><path d="M111.90,295.15 L115.30,295.15 L113.90,297.65 L113.30,297.65 Z"/></g>
<g fill="#d62728"><rect x="114.45" y="292.05" width="1.1" height="4.10" fill-opacity="0.8"/><path d="M113.30,295.15 L116.70,295.15 L115.30,297.65 L114.70,297.65 Z"/></g>
<g fill="#d62728"><rect x="115.85" y="292.05" width="1.1" height="4.10" fill-opacity="0.8"/><path d="M114.70,295.15 L118.10,295.15 L116.70,297.65 L116.10,297.65 Z"/></g>
<g fill="#d62728"><rect x="121.75" y="292.70" width="1.1" height="4.10" fill-opacity="0.8"/><path d="M120.60,295.80 L124.00,295.80 L122.60,298.30 L122.00,298.30 Z"/></g>
<g fill="#ff7f0e"><rect x="130.25" y="292.70" width="1.1" height="4.10" fill-opacity="0.8"/><path d="M129.10,295.80 L132.50,295.80 L131.10,298.30 L130.50,298.30 Z"/></g>
<g fill="#9467bd"><rect x="143.05" y="292.70" width="1.1" height="4.10" fill-opacity="0.8"/><path d="M141.90,295.80 L145.30,295.80 L143.90,298.30 L143.30,298.30 Z"/></g>
<g fill="#d62728"><rect x="147.05" y="292.70" width="1.1" height="4.10" fill-opacity="0.8"/><path d="M145.90,295.80 L149.30,295.80 L147.90,298.30 L147.30,298.30 Z"/></g>
<g fill="#d62728"><rect x="148.95" y="292.70" width="1.1" height="4.10" fill-opacity="0.8"/><path d="M147.80,295.80 L151.20,295.80 L149.80,298.30 L149.20,298.30 Z"/></g>
<g fill="#d62728"><rect x="150.55" y="292.70" width="1.1" height="4.10" fill-opacity="0.8"/><path d="M149.40,295.80 L152.80,295.80 L151.40,298.30 L150.80,298.30 Z"/></g>
<g fill="#d62728"><rect x="152.05" y="292.70" width="1.1" height="4.10" fill-opacity="0.8"/><path d="M150.90,295.80 L154.30,295.80 L152.90,298.30 L152.30,298.30 Z"/></g>
<g fill="#d62728"><rect x="153.85" y="292.70" width="1.1" height="4.10" fill-opacity="0.8"/><path d="M152.70,295.80 L156.10,295.80 L154.70,298.30 L154.10,298.30 Z"/></g>
<g fill="#9467bd"><rect x="164.35" y="292.70" width="1.1" height="4.10" fill-opacity="0.8"/><path d="M163.20,295.80 L166.60,295.80 L165.20,298.30 L164.60,298.30 Z"/></g>
<g fill="#9467bd"><rect x="170.75" y="292.70" width="1.1" height="4.10" fill-opacity="0.8"/><path d="M169.60,295.80 L173.00,295.80 L171.60,298.30 L171.00,298.30 Z"/></g>
<g fill="#d62728"><rect x="175.05" y="292.70" width="1.1" height="4.10" fill-opacity="0.8"/><path d="M173.90,295.80 L177.30,295.80 L175.90,298.30 L175.30,298.30 Z"/></g>
<g fill="#9467bd"><rect x="189.25" y="292.70" width="1.1" height="4.10" fill-opacity="0.8"/><path d="M188.10,295.80 L191.50,295.80 L190.10,298.30 L189.50,298.30 Z"/></g>
<g fill="#d62728"><rect x="194.05" y="292.70" width="1.1" height="4.10" fill-opacity="0.8"/><path d="M192.90,295.80 L196.30,295.80 L194.90,298.30 L194.30,298.30 Z"/></g>
<g fill="#9467bd"><rect x="202.85" y="293.35" width="1.1" height="4.10" fill-opacity="0.8"/><path d="M201.70,296.45 L205.10,296.45 L203.70,298.95 L203.10,298.95 Z"/></g>
<g fill="#ff7f0e"><rect x="217.75" y="293.35" width="1.1" height="4.10" fill-opacity="0.8"/><path d="M216.60,296.45 L220.00,296.45 L218.60,298.95 L218.00,298.95 Z"/></g>
<g fill="#9467bd"><rect x="223.85" y="293.35" width="1.1" height="4.10" fill-opacity="0.8"/><path d="M222.70,296.45 L226.10,296.45 L224.70,298.95 L224.10,298.95 Z"/></g>
<g fill="#9467bd"><rect x="230.25" y="293.35" width="1.1" height="4.10" fill-opacity="0.8"/><path d="M229.10,296.45 L232.50,296.45 L231.10,298.95 L230.50,298.95 Z"/></g>
<g fill="#9467bd"><rect x="239.05" y="293.35" width="1.1" height="4.10" fill-opacity="0.8"/><path d="M237.90,296.45 L241.30,296.45 L239.90,298.95 L239.30,298.95 Z"/></g>
<g fill="#d62728"><rect x="249.45" y="293.35" width="1.1" height="4.10" fill-opacity="0.8"/><path d="M248.30,296.45 L251.70,296.45 L250.30,298.95 L249.70,298.95 Z"/></g>
<g fill="#d62728"><rect x="268.55" y="293.35" width="1.1" height="4.10" fill-opacity="0.8"/><path d="M267.40,296.45 L270.80,296.45 L269.40,298.95 L268.80,298.95 Z"/></g>
<g fill="#d62728"><rect x="270.65" y="293.35" width="1.1" height="4.10" fill-opacity="0.8"/><path d="M269.50,296.45 L272.90,296.45 L271.50,298.95 L270.90,298.95 Z"/></g>
<g fill="#9467bd"><rect x="272.95" y="293.35" width="1.1" height="4.10" fill-opacity="0.8"/><path d="M271.80,296.45 L275.20,296.45 L273.80,298.95 L273.20,298.95 Z"/></g>
<g fill="#ff7f0e"><rect x="281.35" y="293.35" width="1.1" height="4.10" fill-opacity="0.8"/><path d="M280.20,296.45 L283.60,296.45 L282.20,298.95 L281.60,298.95 Z"/></g>
<g fill="#9467bd"><rect x="285.85" y="293.35" width="1.1" height="4.10" fill-opacity="0.8"/><path d="M284.70,296.45 L288.10,296.45 L286.70,298.95 L286.10,298.95 Z"/></g>
<g fill="#d62728"><rect x="291.95" y="293.35" width="1.1" height="4.10" fill-opacity="0.8"/><path d="M290.80,296.45 L294.20,296.45 L292.80,298.95 L292.20,298.95 Z"/></g>
<g fill="#9467bd"><rect x="293.95" y="293.35" width="1.1" height="4.10" fill-opacity="0.8"/><path d="M292.80,296.45 L296.20,296.45 L294.80,298.95 L294.20,298.95 Z"/></g>
<g fill="#9467bd"><rect x="295.35" y="293.35" width="1.1" height="4.10" fill-opacity="0.8"/><path d="M294.20,296.45 L297.60,296.45 L296.20,298.95 L295.60,298.95 Z"/></g>
<g fill="#9467bd"><rect x="296.65" y="293.35" width="1.1" height="4.10" fill-opacity="0.8"/><path d="M295.50,296.45 L298.90,296.45 L297.50,298.95 L296.90,298.95 Z"/></g>
<line x1="25.50" y1="167.90" x2="25.50" y2="300.80" stroke="#262626" stroke-width="1.3" />
<line x1="25.00" y1="300.30" x2="301.70" y2="300.30" stroke="#262626" stroke-width="1.3" />
<text transform="translate(23.60,203.80)" text-anchor="end" font-size="7.00" fill="#262626" stroke="#262626" stroke-width="0.12" textLength="13.58" lengthAdjust="spacingAndGlyphs">0.75</text>
<text transform="translate(23.60,236.70)" text-anchor="end" font-size="7.00" fill="#262626" stroke="#262626" stroke-width="0.12" textLength="13.58" lengthAdjust="spacingAndGlyphs">0.50</text>
<text transform="translate(23.60,269.60)" text-anchor="end" font-size="7.00" fill="#262626" stroke="#262626" stroke-width="0.12" textLength="13.58" lengthAdjust="spacingAndGlyphs">0.25</text>
<text transform="translate(5.90,234.00) rotate(-90)" text-anchor="middle" font-size="8.40" fill="#262626" stroke="#262626" stroke-width="0.12" textLength="75.16" lengthAdjust="spacingAndGlyphs">CDK12d Probability</text>
<text transform="translate(163.60,307.70)" text-anchor="middle" font-size="8.40" fill="#262626" stroke="#262626" stroke-width="0.12" textLength="33.31" lengthAdjust="spacingAndGlyphs">Samples</text>
<text x="0.00" y="172.10" font-size="15" font-weight="bold" fill="#000">c</text>
<rect x="155.80" y="207.10" width="8.00" height="7.70" fill="#2ca02c" />
<text transform="translate(166.40,214.00)" text-anchor="start" font-size="7.30" fill="#262626" stroke="#262626" stroke-width="0.12" textLength="26.00" lengthAdjust="spacingAndGlyphs">CDK12d</text>
<rect x="201.10" y="207.10" width="8.00" height="7.70" fill="#1f77b4" />
<text transform="translate(211.90,214.00)" text-anchor="start" font-size="7.30" fill="#262626" stroke="#262626" stroke-width="0.12" textLength="29.71" lengthAdjust="spacingAndGlyphs">CDK12wt</text>
<g fill="#d62728"><rect x="154.55" y="221.30" width="0.9" height="4.6" fill-opacity="0.85"/><path d="M152.90,225.00 L157.10,225.00 L155.00,227.90 Z"/></g>
<text transform="translate(158.60,227.40)" text-anchor="start" font-size="7.30" fill="#262626" stroke="#262626" stroke-width="0.12" textLength="25.70" lengthAdjust="spacingAndGlyphs">BRCA2d</text>
<g fill="#ff7f0e"><rect x="195.15" y="221.30" width="0.9" height="4.6" fill-opacity="0.85"/><path d="M193.50,225.00 L197.70,225.00 L195.60,227.90 Z"/></g>
<text transform="translate(199.60,227.40)" text-anchor="start" font-size="7.30" fill="#262626" stroke="#262626" stroke-width="0.12" textLength="17.51" lengthAdjust="spacingAndGlyphs">ATMd</text>
<g fill="#9467bd"><rect x="227.75" y="221.30" width="0.9" height="4.6" fill-opacity="0.85"/><path d="M226.10,225.00 L230.30,225.00 L228.20,227.90 Z"/></g>
<text transform="translate(232.20,227.40)" text-anchor="start" font-size="7.30" fill="#262626" stroke="#262626" stroke-width="0.12" textLength="19.71" lengthAdjust="spacingAndGlyphs">MMRd</text>
<line x1="25.55" y1="362.20" x2="301.20" y2="362.20" stroke="#4a4a4a" stroke-width="1.15" stroke-dasharray="1.15 2.0"/>
<line x1="25.55" y1="395.20" x2="301.20" y2="395.20" stroke="#4a4a4a" stroke-width="1.15" stroke-dasharray="1.15 2.0"/>
<line x1="25.55" y1="428.20" x2="301.20" y2="428.20" stroke="#4a4a4a" stroke-width="1.15" stroke-dasharray="1.15 2.0"/>
<rect x="25.50" y="336.20" width="2.12" height="125.10" fill="#9467bd" />
<rect x="27.62" y="338.30" width="2.12" height="123.00" fill="#9467bd" />
<rect x="29.75" y="338.30" width="2.12" height="123.00" fill="#9467bd" />
<rect x="31.87" y="340.10" width="2.12" height="121.20" fill="#9467bd" />
<rect x="34.00" y="340.70" width="2.12" height="120.60" fill="#9467bd" />
<rect x="36.12" y="341.30" width="2.12" height="120.00" fill="#9467bd" />
<rect x="38.25" y="341.80" width="2.12" height="119.50" fill="#9467bd" />
<rect x="40.37" y="341.80" width="2.12" height="119.50" fill="#9467bd" />
<rect x="42.50" y="344.40" width="2.12" height="116.90" fill="#9467bd" />
<rect x="44.62" y="347.00" width="2.12" height="114.30" fill="#9467bd" />
<rect x="46.75" y="347.00" width="2.12" height="114.30" fill="#9467bd" />
<rect x="48.87" y="356.90" width="2.12" height="104.40" fill="#9467bd" />
<rect x="51.00" y="356.90" width="2.12" height="104.40" fill="#9467bd" />
<rect x="53.12" y="371.00" width="2.12" height="90.30" fill="#9467bd" />
<rect x="55.24" y="373.60" width="2.12" height="87.70" fill="#9467bd" />
<rect x="57.37" y="376.50" width="2.12" height="84.80" fill="#9467bd" />
<rect x="59.49" y="453.10" width="2.12" height="8.20" fill="#1f77b4" />
<rect x="61.62" y="453.70" width="2.12" height="7.60" fill="#1f77b4" />
<rect x="63.74" y="454.30" width="2.12" height="7.00" fill="#1f77b4" />
<rect x="65.87" y="454.90" width="2.12" height="6.40" fill="#1f77b4" />
<rect x="67.99" y="455.50" width="2.12" height="5.80" fill="#1f77b4" />
<rect x="70.12" y="456.10" width="2.12" height="5.20" fill="#1f77b4" />
<rect x="72.24" y="456.60" width="2.12" height="4.70" fill="#1f77b4" />
<rect x="74.37" y="457.20" width="2.12" height="4.10" fill="#1f77b4" />
<rect x="76.49" y="457.40" width="2.12" height="3.90" fill="#1f77b4" />
<rect x="78.62" y="457.40" width="2.12" height="3.90" fill="#1f77b4" />
<rect x="80.74" y="457.40" width="2.12" height="3.90" fill="#1f77b4" />
<rect x="82.86" y="457.40" width="2.12" height="3.90" fill="#1f77b4" />
<rect x="84.99" y="457.40" width="2.12" height="3.90" fill="#1f77b4" />
<rect x="87.11" y="457.40" width="2.12" height="3.90" fill="#1f77b4" />
<rect x="89.24" y="457.40" width="2.12" height="3.90" fill="#1f77b4" />
<rect x="91.36" y="457.40" width="2.12" height="3.90" fill="#1f77b4" />
<rect x="93.49" y="457.40" width="2.12" height="3.90" fill="#1f77b4" />
<rect x="95.61" y="457.40" width="2.12" height="3.90" fill="#1f77b4" />
<rect x="97.74" y="457.40" width="2.12" height="3.90" fill="#1f77b4" />
<rect x="99.86" y="457.40" width="2.12" height="3.90" fill="#1f77b4" />
<rect x="101.99" y="457.40" width="2.12" height="3.90" fill="#1f77b4" />
<rect x="104.11" y="457.40" width="2.12" height="3.90" fill="#1f77b4" />
<rect x="106.24" y="458.20" width="2.12" height="3.10" fill="#1f77b4" />
<rect x="108.36" y="458.20" width="2.12" height="3.10" fill="#1f77b4" />
<rect x="110.48" y="458.20" width="2.12" height="3.10" fill="#1f77b4" />
<rect x="112.61" y="458.20" width="2.12" height="3.10" fill="#1f77b4" />
<rect x="114.73" y="458.20" width="2.12" height="3.10" fill="#1f77b4" />
<rect x="116.86" y="458.20" width="2.12" height="3.10" fill="#1f77b4" />
<rect x="118.98" y="458.20" width="2.12" height="3.10" fill="#1f77b4" />
<rect x="121.11" y="458.20" width="2.12" height="3.10" fill="#1f77b4" />
<rect x="123.23" y="458.20" width="2.12" height="3.10" fill="#1f77b4" />
<rect x="125.36" y="458.20" width="2.12" height="3.10" fill="#1f77b4" />
<rect x="127.48" y="458.20" width="2.12" height="3.10" fill="#1f77b4" />
<rect x="129.61" y="458.20" width="2.12" height="3.10" fill="#1f77b4" />
<rect x="131.73" y="458.20" width="2.12" height="3.10" fill="#1f77b4" />
<rect x="133.86" y="458.20" width="2.12" height="3.10" fill="#1f77b4" />
<rect x="135.98" y="458.20" width="2.12" height="3.10" fill="#1f77b4" />
<rect x="138.10" y="458.20" width="2.12" height="3.10" fill="#1f77b4" />
<rect x="140.23" y="458.20" width="2.12" height="3.10" fill="#1f77b4" />
<rect x="142.35" y="458.20" width="2.12" height="3.10" fill="#1f77b4" />
<rect x="144.48" y="458.20" width="2.12" height="3.10" fill="#1f77b4" />
<rect x="146.60" y="458.20" width="2.12" height="3.10" fill="#1f77b4" />
<rect x="148.73" y="458.20" width="2.12" height="3.10" fill="#1f77b4" />
<rect x="150.85" y="458.20" width="2.12" height="3.10" fill="#1f77b4" />
<rect x="152.98" y="458.20" width="2.12" height="3.10" fill="#1f77b4" />
<rect x="155.10" y="458.20" width="2.12" height="3.10" fill="#1f77b4" />
<rect x="157.23" y="458.20" width="2.12" height="3.10" fill="#1f77b4" />
<rect x="159.35" y="458.20" width="2.12" height="3.10" fill="#1f77b4" />
<rect x="161.48" y="458.20" width="2.12" height="3.10" fill="#1f77b4" />
<rect x="163.60" y="458.20" width="2.12" height="3.10" fill="#1f77b4" />
<rect x="165.72" y="458.20" width="2.12" height="3.10" fill="#1f77b4" />
<rect x="167.85" y="458.20" width="2.12" height="3.10" fill="#1f77b4" />
<rect x="169.97" y="458.20" width="2.12" height="3.10" fill="#1f77b4" />
<rect x="172.10" y="458.20" width="2.12" height="3.10" fill="#1f77b4" />
<rect x="174.22" y="458.20" width="2.12" height="3.10" fill="#1f77b4" />
<rect x="176.35" y="458.20" width="2.12" height="3.10" fill="#1f77b4" />
<rect x="178.47" y="458.20" width="2.12" height="3.10" fill="#1f77b4" />
<rect x="180.60" y="458.20" width="2.12" height="3.10" fill="#1f77b4" />
<rect x="182.72" y="458.20" width="2.12" height="3.10" fill="#1f77b4" />
<rect x="184.85" y="458.90" width="2.12" height="2.40" fill="#1f77b4" />
<rect x="186.97" y="458.90" width="2.12" height="2.40" fill="#1f77b4" />
<rect x="189.10" y="458.90" width="2.12" height="2.40" fill="#1f77b4" />
<rect x="191.22" y="458.90" width="2.12" height="2.40" fill="#1f77b4" />
<rect x="193.34" y="458.90" width="2.12" height="2.40" fill="#1f77b4" />
<rect x="195.47" y="458.90" width="2.12" height="2.40" fill="#1f77b4" />
<rect x="197.59" y="458.90" width="2.12" height="2.40" fill="#1f77b4" />
<rect x="199.72" y="458.90" width="2.12" height="2.40" fill="#1f77b4" />
<rect x="201.84" y="458.90" width="2.12" height="2.40" fill="#1f77b4" />
<rect x="203.97" y="458.90" width="2.12" height="2.40" fill="#1f77b4" />
<rect x="206.09" y="458.90" width="2.12" height="2.40" fill="#1f77b4" />
<rect x="208.22" y="458.90" width="2.12" height="2.40" fill="#1f77b4" />
<rect x="210.34" y="458.90" width="2.12" height="2.40" fill="#1f77b4" />
<rect x="212.47" y="458.90" width="2.12" height="2.40" fill="#1f77b4" />
<rect x="214.59" y="458.90" width="2.12" height="2.40" fill="#1f77b4" />
<rect x="216.72" y="458.90" width="2.12" height="2.40" fill="#1f77b4" />
<rect x="218.84" y="458.90" width="2.12" height="2.40" fill="#1f77b4" />
<rect x="220.96" y="458.90" width="2.12" height="2.40" fill="#1f77b4" />
<rect x="223.09" y="458.90" width="2.12" height="2.40" fill="#1f77b4" />
<rect x="225.21" y="458.90" width="2.12" height="2.40" fill="#1f77b4" />
<rect x="227.34" y="458.90" width="2.12" height="2.40" fill="#1f77b4" />
<rect x="229.46" y="458.90" width="2.12" height="2.40" fill="#1f77b4" />
<rect x="231.59" y="458.90" width="2.12" height="2.40" fill="#1f77b4" />
<rect x="233.71" y="458.90" width="2.12" height="2.40" fill="#1f77b4" />
<rect x="235.84" y="458.90" width="2.12" height="2.40" fill="#1f77b4" />
<rect x="237.96" y="458.90" width="2.12" height="2.40" fill="#1f77b4" />
<rect x="240.09" y="458.90" width="2.12" height="2.40" fill="#1f77b4" />
<rect x="242.21" y="458.90" width="2.12" height="2.40" fill="#1f77b4" />
<rect x="244.34" y="458.90" width="2.12" height="2.40" fill="#1f77b4" />
<rect x="246.46" y="458.90" width="2.12" height="2.40" fill="#1f77b4" />
<rect x="248.58" y="458.90" width="2.12" height="2.40" fill="#1f77b4" />
<rect x="250.71" y="458.90" width="2.12" height="2.40" fill="#1f77b4" />
<rect x="252.83" y="458.90" width="2.12" height="2.40" fill="#1f77b4" />
<rect x="254.96" y="458.90" width="2.12" height="2.40" fill="#1f77b4" />
<rect x="257.08" y="458.90" width="2.12" height="2.40" fill="#1f77b4" />
<rect x="259.21" y="459.30" width="2.12" height="2.00" fill="#1f77b4" />
<rect x="261.33" y="459.30" width="2.12" height="2.00" fill="#1f77b4" />
<rect x="263.46" y="459.30" width="2.12" height="2.00" fill="#1f77b4" />
<rect x="265.58" y="459.30" width="2.12" height="2.00" fill="#1f77b4" />
<rect x="267.71" y="459.30" width="2.12" height="2.00" fill="#1f77b4" />
<rect x="269.83" y="459.30" width="2.12" height="2.00" fill="#1f77b4" />
<rect x="271.96" y="459.30" width="2.12" height="2.00" fill="#1f77b4" />
<rect x="274.08" y="459.30" width="2.12" height="2.00" fill="#1f77b4" />
<rect x="276.20" y="459.30" width="2.12" height="2.00" fill="#1f77b4" />
<rect x="278.33" y="459.30" width="2.12" height="2.00" fill="#1f77b4" />
<rect x="280.45" y="459.30" width="2.12" height="2.00" fill="#1f77b4" />
<rect x="282.58" y="459.30" width="2.12" height="2.00" fill="#1f77b4" />
<rect x="284.70" y="459.30" width="2.12" height="2.00" fill="#1f77b4" />
<rect x="286.83" y="459.30" width="2.12" height="2.00" fill="#1f77b4" />
<rect x="288.95" y="459.30" width="2.12" height="2.00" fill="#1f77b4" />
<rect x="291.08" y="459.30" width="2.12" height="2.00" fill="#1f77b4" />
<rect x="293.20" y="459.30" width="2.12" height="2.00" fill="#1f77b4" />
<rect x="295.33" y="459.30" width="2.12" height="2.00" fill="#1f77b4" />
<rect x="297.45" y="459.30" width="2.12" height="2.00" fill="#1f77b4" />
<rect x="299.58" y="459.30" width="2.12" height="2.00" fill="#1f77b4" />
<path d="M27.62,336.20V461.30 M29.75,338.30V461.30 M31.87,338.30V461.30 M34.00,340.10V461.30 M36.12,340.70V461.30 M38.25,341.30V461.30 M40.37,341.80V461.30 M42.50,341.80V461.30 M44.62,344.40V461.30 M46.75,347.00V461.30 M48.87,347.00V461.30 M51.00,356.90V461.30 M53.12,356.90V461.30 M55.24,371.00V461.30 M57.37,373.60V461.30 M59.49,376.50V461.30 M61.62,453.10V461.30 M63.74,453.70V461.30 M65.87,454.30V461.30 M67.99,454.90V461.30 M70.12,455.50V461.30 M72.24,456.10V461.30 M74.37,456.60V461.30 M76.49,457.20V461.30 M78.62,457.40V461.30 M80.74,457.40V461.30 M82.86,457.40V461.30 M84.99,457.40V461.30 M87.11,457.40V461.30 M89.24,457.40V461.30 M91.36,457.40V461.30 M93.49,457.40V461.30 M95.61,457.40V461.30 M97.74,457.40V461.30 M99.86,457.40V461.30 M101.99,457.40V461.30 M104.11,457.40V461.30 M106.24,457.40V461.30 M108.36,458.20V461.30 M110.48,458.20V461.30 M112.61,458.20V461.30 M114.73,458.20V461.30 M116.86,458.20V461.30 M118.98,458.20V461.30 M121.11,458.20V461.30 M123.23,458.20V461.30 M125.36,458.20V461.30 M127.48,458.20V461.30 M129.61,458.20V461.30 M131.73,458.20V461.30 M133.86,458.20V461.30 M135.98,458.20V461.30 M138.10,458.20V461.30 M140.23,458.20V461.30 M142.35,458.20V461.30 M144.48,458.20V461.30 M146.60,458.20V461.30 M148.73,458.20V461.30 M150.85,458.20V461.30 M152.98,458.20V461.30 M155.10,458.20V461.30 M157.23,458.20V461.30 M159.35,458.20V461.30 M161.48,458.20V461.30 M163.60,458.20V461.30 M165.72,458.20V461.30 M167.85,458.20V461.30 M169.97,458.20V461.30 M172.10,458.20V461.30 M174.22,458.20V461.30 M176.35,458.20V461.30 M178.47,458.20V461.30 M180.60,458.20V461.30 M182.72,458.20V461.30 M184.85,458.20V461.30 M186.97,458.90V461.30 M189.10,458.90V461.30 M191.22,458.90V461.30 M193.34,458.90V461.30 M195.47,458.90V461.30 M197.59,458.90V461.30 M199.72,458.90V461.30 M201.84,458.90V461.30 M203.97,458.90V461.30 M206.09,458.90V461.30 M208.22,458.90V461.30 M210.34,458.90V461.30 M212.47,458.90V461.30 M214.59,458.90V461.30 M216.72,458.90V461.30 M218.84,458.90V461.30 M220.96,458.90V461.30 M223.09,458.90V461.30 M225.21,458.90V461.30 M227.34,458.90V461.30 M229.46,458.90V461.30 M231.59,458.90V461.30 M233.71,458.90V461.30 M235.84,458.90V461.30 M237.96,458.90V461.30 M240.09,458.90V461.30 M242.21,458.90V461.30 M244.34,458.90V461.30 M246.46,458.90V461.30 M248.58,458.90V461.30 M250.71,458.90V461.30 M252.83,458.90V461.30 M254.96,458.90V461.30 M257.08,458.90V461.30 M259.21,458.90V461.30 M261.33,459.30V461.30 M263.46,459.30V461.30 M265.58,459.30V461.30 M267.71,459.30V461.30 M269.83,459.30V461.30 M271.96,459.30V461.30 M274.08,459.30V461.30 M276.20,459.30V461.30 M278.33,459.30V461.30 M280.45,459.30V461.30 M282.58,459.30V461.30 M284.70,459.30V461.30 M286.83,459.30V461.30 M288.95,459.30V461.30 M291.08,459.30V461.30 M293.20,459.30V461.30 M295.33,459.30V461.30 M297.45,459.30V461.30 M299.58,459.30V461.30" stroke="#ffffff" stroke-width="0.55" stroke-opacity="0.8"/>
<line x1="25.55" y1="362.20" x2="301.20" y2="362.20" stroke="#3c3c3c" stroke-width="1.15" stroke-dasharray="1.15 2.0" stroke-opacity="0.3"/>
<line x1="25.55" y1="395.20" x2="301.20" y2="395.20" stroke="#3c3c3c" stroke-width="1.15" stroke-dasharray="1.15 2.0" stroke-opacity="0.3"/>
<line x1="25.55" y1="428.20" x2="301.20" y2="428.20" stroke="#3c3c3c" stroke-width="1.15" stroke-dasharray="1.15 2.0" stroke-opacity="0.3"/>
<g fill="#d62728"><rect x="61.85" y="447.33" width="1.1" height="4.10" fill-opacity="0.8"/><path d="M60.70,450.43 L64.10,450.43 L62.70,452.93 L62.10,452.93 Z"/></g>
<g fill="#d62728"><rect x="63.25" y="447.98" width="1.1" height="4.10" fill-opacity="0.8"/><path d="M62.10,451.08 L65.50,451.08 L64.10,453.58 L63.50,453.58 Z"/></g>
<g fill="#d62728"><rect x="64.65" y="447.98" width="1.1" height="4.10" fill-opacity="0.8"/><path d="M63.50,451.08 L66.90,451.08 L65.50,453.58 L64.90,453.58 Z"/></g>
<g fill="#d62728"><rect x="66.05" y="448.62" width="1.1" height="4.10" fill-opacity="0.8"/><path d="M64.90,451.72 L68.30,451.72 L66.90,454.22 L66.30,454.22 Z"/></g>
<g fill="#d62728"><rect x="67.45" y="449.27" width="1.1" height="4.10" fill-opacity="0.8"/><path d="M66.30,452.37 L69.70,452.37 L68.30,454.87 L67.70,454.87 Z"/></g>
<g fill="#d62728"><rect x="68.85" y="449.27" width="1.1" height="4.10" fill-opacity="0.8"/><path d="M67.70,452.37 L71.10,452.37 L69.70,454.87 L69.10,454.87 Z"/></g>
<g fill="#d62728"><rect x="70.65" y="449.92" width="1.1" height="4.10" fill-opacity="0.8"/><path d="M69.50,453.02 L72.90,453.02 L71.50,455.52 L70.90,455.52 Z"/></g>
<g fill="#d62728"><rect x="75.05" y="451.11" width="1.1" height="4.10" fill-opacity="0.8"/><path d="M73.90,454.21 L77.30,454.21 L75.90,456.71 L75.30,456.71 Z"/></g>
<g fill="#2ca02c"><rect x="81.15" y="451.32" width="1.1" height="4.10" fill-opacity="0.8"/><path d="M80.00,454.42 L83.40,454.42 L82.00,456.92 L81.40,456.92 Z"/></g>
<g fill="#2ca02c"><rect x="85.85" y="451.32" width="1.1" height="4.10" fill-opacity="0.8"/><path d="M84.70,454.42 L88.10,454.42 L86.70,456.92 L86.10,456.92 Z"/></g>
<g fill="#2ca02c"><rect x="87.85" y="451.32" width="1.1" height="4.10" fill-opacity="0.8"/><path d="M86.70,454.42 L90.10,454.42 L88.70,456.92 L88.10,456.92 Z"/></g>
<g fill="#2ca02c"><rect x="100.65" y="451.32" width="1.1" height="4.10" fill-opacity="0.8"/><path d="M99.50,454.42 L102.90,454.42 L101.50,456.92 L100.90,456.92 Z"/></g>
<g fill="#2ca02c"><rect x="106.65" y="452.19" width="1.1" height="4.10" fill-opacity="0.8"/><path d="M105.50,455.29 L108.90,455.29 L107.50,457.79 L106.90,457.79 Z"/></g>
<g fill="#d62728"><rect x="109.05" y="452.19" width="1.1" height="4.10" fill-opacity="0.8"/><path d="M107.90,455.29 L111.30,455.29 L109.90,457.79 L109.30,457.79 Z"/></g>
<g fill="#d62728"><rect x="119.55" y="452.19" width="1.1" height="4.10" fill-opacity="0.8"/><path d="M118.40,455.29 L121.80,455.29 L120.40,457.79 L119.80,457.79 Z"/></g>
<g fill="#d62728"><rect x="123.75" y="452.19" width="1.1" height="4.10" fill-opacity="0.8"/><path d="M122.60,455.29 L126.00,455.29 L124.60,457.79 L124.00,457.79 Z"/></g>
<g fill="#d62728"><rect x="130.35" y="452.19" width="1.1" height="4.10" fill-opacity="0.8"/><path d="M129.20,455.29 L132.60,455.29 L131.20,457.79 L130.60,457.79 Z"/></g>
<g fill="#ff7f0e"><rect x="134.45" y="452.19" width="1.1" height="4.10" fill-opacity="0.8"/><path d="M133.30,455.29 L136.70,455.29 L135.30,457.79 L134.70,457.79 Z"/></g>
<g fill="#d62728"><rect x="138.95" y="452.19" width="1.1" height="4.10" fill-opacity="0.8"/><path d="M137.80,455.29 L141.20,455.29 L139.80,457.79 L139.20,457.79 Z"/></g>
<g fill="#d62728"><rect x="147.35" y="452.19" width="1.1" height="4.10" fill-opacity="0.8"/><path d="M146.20,455.29 L149.60,455.29 L148.20,457.79 L147.60,457.79 Z"/></g>
<g fill="#d62728"><rect x="151.45" y="452.19" width="1.1" height="4.10" fill-opacity="0.8"/><path d="M150.30,455.29 L153.70,455.29 L152.30,457.79 L151.70,457.79 Z"/></g>
<g fill="#d62728"><rect x="159.95" y="452.19" width="1.1" height="4.10" fill-opacity="0.8"/><path d="M158.80,455.29 L162.20,455.29 L160.80,457.79 L160.20,457.79 Z"/></g>
<g fill="#d62728"><rect x="164.25" y="452.19" width="1.1" height="4.10" fill-opacity="0.8"/><path d="M163.10,455.29 L166.50,455.29 L165.10,457.79 L164.50,457.79 Z"/></g>
<g fill="#2ca02c"><rect x="166.65" y="452.19" width="1.1" height="4.10" fill-opacity="0.8"/><path d="M165.50,455.29 L168.90,455.29 L167.50,457.79 L166.90,457.79 Z"/></g>
<g fill="#d62728"><rect x="187.75" y="452.94" width="1.1" height="4.10" fill-opacity="0.8"/><path d="M186.60,456.04 L190.00,456.04 L188.60,458.54 L188.00,458.54 Z"/></g>
<g fill="#d62728"><rect x="189.85" y="452.94" width="1.1" height="4.10" fill-opacity="0.8"/><path d="M188.70,456.04 L192.10,456.04 L190.70,458.54 L190.10,458.54 Z"/></g>
<g fill="#2ca02c"><rect x="193.95" y="452.94" width="1.1" height="4.10" fill-opacity="0.8"/><path d="M192.80,456.04 L196.20,456.04 L194.80,458.54 L194.20,458.54 Z"/></g>
<g fill="#d62728"><rect x="208.95" y="452.94" width="1.1" height="4.10" fill-opacity="0.8"/><path d="M207.80,456.04 L211.20,456.04 L209.80,458.54 L209.20,458.54 Z"/></g>
<g fill="#d62728"><rect x="213.25" y="452.94" width="1.1" height="4.10" fill-opacity="0.8"/><path d="M212.10,456.04 L215.50,456.04 L214.10,458.54 L213.50,458.54 Z"/></g>
<g fill="#d62728"><rect x="217.55" y="452.94" width="1.1" height="4.10" fill-opacity="0.8"/><path d="M216.40,456.04 L219.80,456.04 L218.40,458.54 L217.80,458.54 Z"/></g>
<g fill="#2ca02c"><rect x="219.75" y="452.94" width="1.1" height="4.10" fill-opacity="0.8"/><path d="M218.60,456.04 L222.00,456.04 L220.60,458.54 L220.00,458.54 Z"/></g>
<g fill="#ff7f0e"><rect x="223.75" y="452.94" width="1.1" height="4.10" fill-opacity="0.8"/><path d="M222.60,456.04 L226.00,456.04 L224.60,458.54 L224.00,458.54 Z"/></g>
<g fill="#d62728"><rect x="226.05" y="452.94" width="1.1" height="4.10" fill-opacity="0.8"/><path d="M224.90,456.04 L228.30,456.04 L226.90,458.54 L226.30,458.54 Z"/></g>
<g fill="#ff7f0e"><rect x="227.95" y="452.94" width="1.1" height="4.10" fill-opacity="0.8"/><path d="M226.80,456.04 L230.20,456.04 L228.80,458.54 L228.20,458.54 Z"/></g>
<g fill="#d62728"><rect x="230.15" y="452.94" width="1.1" height="4.10" fill-opacity="0.8"/><path d="M229.00,456.04 L232.40,456.04 L231.00,458.54 L230.40,458.54 Z"/></g>
<g fill="#ff7f0e"><rect x="232.65" y="452.94" width="1.1" height="4.10" fill-opacity="0.8"/><path d="M231.50,456.04 L234.90,456.04 L233.50,458.54 L232.90,458.54 Z"/></g>
<g fill="#ff7f0e"><rect x="243.05" y="452.94" width="1.1" height="4.10" fill-opacity="0.8"/><path d="M241.90,456.04 L245.30,456.04 L243.90,458.54 L243.30,458.54 Z"/></g>
<g fill="#2ca02c"><rect x="247.45" y="452.94" width="1.1" height="4.10" fill-opacity="0.8"/><path d="M246.30,456.04 L249.70,456.04 L248.30,458.54 L247.70,458.54 Z"/></g>
<g fill="#2ca02c"><rect x="270.65" y="453.38" width="1.1" height="4.10" fill-opacity="0.8"/><path d="M269.50,456.48 L272.90,456.48 L271.50,458.98 L270.90,458.98 Z"/></g>
<g fill="#ff7f0e"><rect x="272.95" y="453.38" width="1.1" height="4.10" fill-opacity="0.8"/><path d="M271.80,456.48 L275.20,456.48 L273.80,458.98 L273.20,458.98 Z"/></g>
<g fill="#d62728"><rect x="296.15" y="453.38" width="1.1" height="4.10" fill-opacity="0.8"/><path d="M295.00,456.48 L298.40,456.48 L297.00,458.98 L296.40,458.98 Z"/></g>
<line x1="25.50" y1="328.90" x2="25.50" y2="461.80" stroke="#262626" stroke-width="1.3" />
<line x1="25.00" y1="461.30" x2="301.70" y2="461.30" stroke="#262626" stroke-width="1.3" />
<text transform="translate(23.60,364.80)" text-anchor="end" font-size="7.00" fill="#262626" stroke="#262626" stroke-width="0.12" textLength="13.58" lengthAdjust="spacingAndGlyphs">0.75</text>
<text transform="translate(23.60,397.70)" text-anchor="end" font-size="7.00" fill="#262626" stroke="#262626" stroke-width="0.12" textLength="13.58" lengthAdjust="spacingAndGlyphs">0.50</text>
<text transform="translate(23.60,430.60)" text-anchor="end" font-size="7.00" fill="#262626" stroke="#262626" stroke-width="0.12" textLength="13.58" lengthAdjust="spacingAndGlyphs">0.25</text>
<text transform="translate(5.90,395.00) rotate(-90)" text-anchor="middle" font-size="8.40" fill="#262626" stroke="#262626" stroke-width="0.12" textLength="67.54" lengthAdjust="spacingAndGlyphs">MMRd Probability</text>
<text transform="translate(163.60,468.70)" text-anchor="middle" font-size="8.40" fill="#262626" stroke="#262626" stroke-width="0.12" textLength="33.31" lengthAdjust="spacingAndGlyphs">Samples</text>
<text x="0.00" y="333.10" font-size="15" font-weight="bold" fill="#000">e</text>
<rect x="155.80" y="368.10" width="8.00" height="7.70" fill="#9467bd" />
<text transform="translate(166.40,375.00)" text-anchor="start" font-size="7.30" fill="#262626" stroke="#262626" stroke-width="0.12" textLength="19.71" lengthAdjust="spacingAndGlyphs">MMRd</text>
<rect x="201.10" y="368.10" width="8.00" height="7.70" fill="#1f77b4" />
<text transform="translate(211.90,375.00)" text-anchor="start" font-size="7.30" fill="#262626" stroke="#262626" stroke-width="0.12" textLength="23.42" lengthAdjust="spacingAndGlyphs">MMRwt</text>
<g fill="#d62728"><rect x="154.55" y="382.30" width="0.9" height="4.6" fill-opacity="0.85"/><path d="M152.90,386.00 L157.10,386.00 L155.00,388.90 Z"/></g>
<text transform="translate(158.60,388.40)" text-anchor="start" font-size="7.30" fill="#262626" stroke="#262626" stroke-width="0.12" textLength="25.70" lengthAdjust="spacingAndGlyphs">BRCA2d</text>
<g fill="#2ca02c"><rect x="195.15" y="382.30" width="0.9" height="4.6" fill-opacity="0.85"/><path d="M193.50,386.00 L197.70,386.00 L195.60,388.90 Z"/></g>
<text transform="translate(199.60,388.40)" text-anchor="start" font-size="7.30" fill="#262626" stroke="#262626" stroke-width="0.12" textLength="26.00" lengthAdjust="spacingAndGlyphs">CDK12d</text>
<g fill="#ff7f0e"><rect x="236.45" y="382.30" width="0.9" height="4.6" fill-opacity="0.85"/><path d="M234.80,386.00 L239.00,386.00 L236.90,388.90 Z"/></g>
<text transform="translate(240.50,388.40)" text-anchor="start" font-size="7.30" fill="#262626" stroke="#262626" stroke-width="0.12" textLength="17.51" lengthAdjust="spacingAndGlyphs">ATMd</text>
<polyline points="338.60,26.60 427.02,26.60 427.02,123.48 430.90,120.98" fill="none" stroke="#ff8c00" stroke-width="1.4" stroke-linejoin="miter" />
<rect x="339.90" y="117.30" width="48.10" height="11.00" rx="1.5" fill="#ffffff" fill-opacity="0.8" stroke="#d0d0d0" stroke-width="0.7"/>
<line x1="341.90" y1="122.00" x2="355.10" y2="122.00" stroke="#ff8c00" stroke-width="1.4" />
<text transform="translate(358.80,124.20)" text-anchor="start" font-size="6.35" fill="#262626" stroke="#262626" stroke-width="0.12" textLength="26.06" lengthAdjust="spacingAndGlyphs">PR curve</text>
<line x1="337.00" y1="16.00" x2="337.00" y2="131.30" stroke="#3a3a3a" stroke-width="1.4" />
<line x1="336.50" y1="130.80" x2="431.50" y2="130.80" stroke="#3a3a3a" stroke-width="1.4" />
<line x1="334.70" y1="131.00" x2="337.00" y2="131.00" stroke="#1e1e1e" stroke-width="1.0" />
<text transform="translate(334.00,133.90)" text-anchor="end" font-size="7.00" fill="#262626" stroke="#262626" stroke-width="0.12" textLength="9.70" lengthAdjust="spacingAndGlyphs">0.5</text>
<line x1="334.70" y1="110.12" x2="337.00" y2="110.12" stroke="#1e1e1e" stroke-width="1.0" />
<text transform="translate(334.00,113.02)" text-anchor="end" font-size="7.00" fill="#262626" stroke="#262626" stroke-width="0.12" textLength="9.70" lengthAdjust="spacingAndGlyphs">0.6</text>
<line x1="334.70" y1="89.24" x2="337.00" y2="89.24" stroke="#1e1e1e" stroke-width="1.0" />
<text transform="translate(334.00,92.14)" text-anchor="end" font-size="7.00" fill="#262626" stroke="#262626" stroke-width="0.12" textLength="9.70" lengthAdjust="spacingAndGlyphs">0.7</text>
<line x1="334.70" y1="68.36" x2="337.00" y2="68.36" stroke="#1e1e1e" stroke-width="1.0" />
<text transform="translate(334.00,71.26)" text-anchor="end" font-size="7.00" fill="#262626" stroke="#262626" stroke-width="0.12" textLength="9.70" lengthAdjust="spacingAndGlyphs">0.8</text>
<line x1="334.70" y1="47.48" x2="337.00" y2="47.48" stroke="#1e1e1e" stroke-width="1.0" />
<text transform="translate(334.00,50.38)" text-anchor="end" font-size="7.00" fill="#262626" stroke="#262626" stroke-width="0.12" textLength="9.70" lengthAdjust="spacingAndGlyphs">0.9</text>
<line x1="334.70" y1="26.60" x2="337.00" y2="26.60" stroke="#1e1e1e" stroke-width="1.0" />
<text transform="translate(334.00,29.50)" text-anchor="end" font-size="7.00" fill="#262626" stroke="#262626" stroke-width="0.12" textLength="9.70" lengthAdjust="spacingAndGlyphs">1.0</text>
<line x1="338.60" y1="130.80" x2="338.60" y2="133.10" stroke="#1e1e1e" stroke-width="1.0" />
<text transform="translate(338.60,138.60)" text-anchor="middle" font-size="7.00" fill="#262626" stroke="#262626" stroke-width="0.12" textLength="9.70" lengthAdjust="spacingAndGlyphs">0.0</text>
<line x1="357.06" y1="130.80" x2="357.06" y2="133.10" stroke="#1e1e1e" stroke-width="1.0" />
<text transform="translate(357.06,138.60)" text-anchor="middle" font-size="7.00" fill="#262626" stroke="#262626" stroke-width="0.12" textLength="9.70" lengthAdjust="spacingAndGlyphs">0.2</text>
<line x1="375.52" y1="130.80" x2="375.52" y2="133.10" stroke="#1e1e1e" stroke-width="1.0" />
<text transform="translate(375.52,138.60)" text-anchor="middle" font-size="7.00" fill="#262626" stroke="#262626" stroke-width="0.12" textLength="9.70" lengthAdjust="spacingAndGlyphs">0.4</text>
<line x1="393.98" y1="130.80" x2="393.98" y2="133.10" stroke="#1e1e1e" stroke-width="1.0" />
<text transform="translate(393.98,138.60)" text-anchor="middle" font-size="7.00" fill="#262626" stroke="#262626" stroke-width="0.12" textLength="9.70" lengthAdjust="spacingAndGlyphs">0.6</text>
<line x1="412.44" y1="130.80" x2="412.44" y2="133.10" stroke="#1e1e1e" stroke-width="1.0" />
<text transform="translate(412.44,138.60)" text-anchor="middle" font-size="7.00" fill="#262626" stroke="#262626" stroke-width="0.12" textLength="9.70" lengthAdjust="spacingAndGlyphs">0.8</text>
<line x1="430.90" y1="130.80" x2="430.90" y2="133.10" stroke="#1e1e1e" stroke-width="1.0" />
<text transform="translate(430.90,138.60)" text-anchor="middle" font-size="7.00" fill="#262626" stroke="#262626" stroke-width="0.12" textLength="9.70" lengthAdjust="spacingAndGlyphs">1.0</text>
<text transform="translate(384.20,146.70)" text-anchor="middle" font-size="8.40" fill="#262626" stroke="#262626" stroke-width="0.12" textLength="56.83" lengthAdjust="spacingAndGlyphs">BRCA2d Recall</text>
<text transform="translate(322.00,73.20) rotate(-90)" text-anchor="middle" font-size="8.40" fill="#262626" stroke="#262626" stroke-width="0.12" textLength="68.36" lengthAdjust="spacingAndGlyphs">BRCA2d Precision</text>
<text x="310.20" y="11.00" font-size="15" font-weight="bold" fill="#000">b</text>
<polyline points="338.60,187.60 393.98,187.60 393.98,217.46 412.44,210.99 412.44,229.36 421.67,225.18 421.67,278.43 430.90,273.42" fill="none" stroke="#ff8c00" stroke-width="1.4" stroke-linejoin="miter" />
<rect x="339.90" y="278.30" width="48.10" height="11.00" rx="1.5" fill="#ffffff" fill-opacity="0.8" stroke="#d0d0d0" stroke-width="0.7"/>
<line x1="341.90" y1="283.00" x2="355.10" y2="283.00" stroke="#ff8c00" stroke-width="1.4" />
<text transform="translate(358.80,285.20)" text-anchor="start" font-size="6.35" fill="#262626" stroke="#262626" stroke-width="0.12" textLength="26.06" lengthAdjust="spacingAndGlyphs">PR curve</text>
<line x1="337.00" y1="177.00" x2="337.00" y2="292.30" stroke="#3a3a3a" stroke-width="1.4" />
<line x1="336.50" y1="291.80" x2="431.50" y2="291.80" stroke="#3a3a3a" stroke-width="1.4" />
<line x1="334.70" y1="292.00" x2="337.00" y2="292.00" stroke="#1e1e1e" stroke-width="1.0" />
<text transform="translate(334.00,294.90)" text-anchor="end" font-size="7.00" fill="#262626" stroke="#262626" stroke-width="0.12" textLength="9.70" lengthAdjust="spacingAndGlyphs">0.5</text>
<line x1="334.70" y1="271.12" x2="337.00" y2="271.12" stroke="#1e1e1e" stroke-width="1.0" />
<text transform="translate(334.00,274.02)" text-anchor="end" font-size="7.00" fill="#262626" stroke="#262626" stroke-width="0.12" textLength="9.70" lengthAdjust="spacingAndGlyphs">0.6</text>
<line x1="334.70" y1="250.24" x2="337.00" y2="250.24" stroke="#1e1e1e" stroke-width="1.0" />
<text transform="translate(334.00,253.14)" text-anchor="end" font-size="7.00" fill="#262626" stroke="#262626" stroke-width="0.12" textLength="9.70" lengthAdjust="spacingAndGlyphs">0.7</text>
<line x1="334.70" y1="229.36" x2="337.00" y2="229.36" stroke="#1e1e1e" stroke-width="1.0" />
<text transform="translate(334.00,232.26)" text-anchor="end" font-size="7.00" fill="#262626" stroke="#262626" stroke-width="0.12" textLength="9.70" lengthAdjust="spacingAndGlyphs">0.8</text>
<line x1="334.70" y1="208.48" x2="337.00" y2="208.48" stroke="#1e1e1e" stroke-width="1.0" />
<text transform="translate(334.00,211.38)" text-anchor="end" font-size="7.00" fill="#262626" stroke="#262626" stroke-width="0.12" textLength="9.70" lengthAdjust="spacingAndGlyphs">0.9</text>
<line x1="334.70" y1="187.60" x2="337.00" y2="187.60" stroke="#1e1e1e" stroke-width="1.0" />
<text transform="translate(334.00,190.50)" text-anchor="end" font-size="7.00" fill="#262626" stroke="#262626" stroke-width="0.12" textLength="9.70" lengthAdjust="spacingAndGlyphs">1.0</text>
<line x1="338.60" y1="291.80" x2="338.60" y2="294.10" stroke="#1e1e1e" stroke-width="1.0" />
<text transform="translate(338.60,299.60)" text-anchor="middle" font-size="7.00" fill="#262626" stroke="#262626" stroke-width="0.12" textLength="9.70" lengthAdjust="spacingAndGlyphs">0.0</text>
<line x1="357.06" y1="291.80" x2="357.06" y2="294.10" stroke="#1e1e1e" stroke-width="1.0" />
<text transform="translate(357.06,299.60)" text-anchor="middle" font-size="7.00" fill="#262626" stroke="#262626" stroke-width="0.12" textLength="9.70" lengthAdjust="spacingAndGlyphs">0.2</text>
<line x1="375.52" y1="291.80" x2="375.52" y2="294.10" stroke="#1e1e1e" stroke-width="1.0" />
<text transform="translate(375.52,299.60)" text-anchor="middle" font-size="7.00" fill="#262626" stroke="#262626" stroke-width="0.12" textLength="9.70" lengthAdjust="spacingAndGlyphs">0.4</text>
<line x1="393.98" y1="291.80" x2="393.98" y2="294.10" stroke="#1e1e1e" stroke-width="1.0" />
<text transform="translate(393.98,299.60)" text-anchor="middle" font-size="7.00" fill="#262626" stroke="#262626" stroke-width="0.12" textLength="9.70" lengthAdjust="spacingAndGlyphs">0.6</text>
<line x1="412.44" y1="291.80" x2="412.44" y2="294.10" stroke="#1e1e1e" stroke-width="1.0" />
<text transform="translate(412.44,299.60)" text-anchor="middle" font-size="7.00" fill="#262626" stroke="#262626" stroke-width="0.12" textLength="9.70" lengthAdjust="spacingAndGlyphs">0.8</text>
<line x1="430.90" y1="291.80" x2="430.90" y2="294.10" stroke="#1e1e1e" stroke-width="1.0" />
<text transform="translate(430.90,299.60)" text-anchor="middle" font-size="7.00" fill="#262626" stroke="#262626" stroke-width="0.12" textLength="9.70" lengthAdjust="spacingAndGlyphs">1.0</text>
<text transform="translate(384.20,307.70)" text-anchor="middle" font-size="8.40" fill="#262626" stroke="#262626" stroke-width="0.12" textLength="57.19" lengthAdjust="spacingAndGlyphs">CDK12d Recall</text>
<text transform="translate(322.00,234.20) rotate(-90)" text-anchor="middle" font-size="8.40" fill="#262626" stroke="#262626" stroke-width="0.12" textLength="68.73" lengthAdjust="spacingAndGlyphs">CDK12d Precision</text>
<text x="310.20" y="172.00" font-size="15" font-weight="bold" fill="#000">d</text>
<polyline points="338.60,348.60 430.90,348.60" fill="none" stroke="#ff8c00" stroke-width="1.4" stroke-linejoin="miter" />
<rect x="339.90" y="439.30" width="48.10" height="11.00" rx="1.5" fill="#ffffff" fill-opacity="0.8" stroke="#d0d0d0" stroke-width="0.7"/>
<line x1="341.90" y1="444.00" x2="355.10" y2="444.00" stroke="#ff8c00" stroke-width="1.4" />
<text transform="translate(358.80,446.20)" text-anchor="start" font-size="6.35" fill="#262626" stroke="#262626" stroke-width="0.12" textLength="26.06" lengthAdjust="spacingAndGlyphs">PR curve</text>
<line x1="337.00" y1="338.00" x2="337.00" y2="453.30" stroke="#3a3a3a" stroke-width="1.4" />
<line x1="336.50" y1="452.80" x2="431.50" y2="452.80" stroke="#3a3a3a" stroke-width="1.4" />
<line x1="334.70" y1="453.00" x2="337.00" y2="453.00" stroke="#1e1e1e" stroke-width="1.0" />
<text transform="translate(334.00,455.90)" text-anchor="end" font-size="7.00" fill="#262626" stroke="#262626" stroke-width="0.12" textLength="9.70" lengthAdjust="spacingAndGlyphs">0.5</text>
<line x1="334.70" y1="432.12" x2="337.00" y2="432.12" stroke="#1e1e1e" stroke-width="1.0" />
<text transform="translate(334.00,435.02)" text-anchor="end" font-size="7.00" fill="#262626" stroke="#262626" stroke-width="0.12" textLength="9.70" lengthAdjust="spacingAndGlyphs">0.6</text>
<line x1="334.70" y1="411.24" x2="337.00" y2="411.24" stroke="#1e1e1e" stroke-width="1.0" />
<text transform="translate(334.00,414.14)" text-anchor="end" font-size="7.00" fill="#262626" stroke="#262626" stroke-width="0.12" textLength="9.70" lengthAdjust="spacingAndGlyphs">0.7</text>
<line x1="334.70" y1="390.36" x2="337.00" y2="390.36" stroke="#1e1e1e" stroke-width="1.0" />
<text transform="translate(334.00,393.26)" text-anchor="end" font-size="7.00" fill="#262626" stroke="#262626" stroke-width="0.12" textLength="9.70" lengthAdjust="spacingAndGlyphs">0.8</text>
<line x1="334.70" y1="369.48" x2="337.00" y2="369.48" stroke="#1e1e1e" stroke-width="1.0" />
<text transform="translate(334.00,372.38)" text-anchor="end" font-size="7.00" fill="#262626" stroke="#262626" stroke-width="0.12" textLength="9.70" lengthAdjust="spacingAndGlyphs">0.9</text>
<line x1="334.70" y1="348.60" x2="337.00" y2="348.60" stroke="#1e1e1e" stroke-width="1.0" />
<text transform="translate(334.00,351.50)" text-anchor="end" font-size="7.00" fill="#262626" stroke="#262626" stroke-width="0.12" textLength="9.70" lengthAdjust="spacingAndGlyphs">1.0</text>
<line x1="338.60" y1="452.80" x2="338.60" y2="455.10" stroke="#1e1e1e" stroke-width="1.0" />
<text transform="translate(338.60,460.60)" text-anchor="middle" font-size="7.00" fill="#262626" stroke="#262626" stroke-width="0.12" textLength="9.70" lengthAdjust="spacingAndGlyphs">0.0</text>
<line x1="357.06" y1="452.80" x2="357.06" y2="455.10" stroke="#1e1e1e" stroke-width="1.0" />
<text transform="translate(357.06,460.60)" text-anchor="middle" font-size="7.00" fill="#262626" stroke="#262626" stroke-width="0.12" textLength="9.70" lengthAdjust="spacingAndGlyphs">0.2</text>
<line x1="375.52" y1="452.80" x2="375.52" y2="455.10" stroke="#1e1e1e" stroke-width="1.0" />
<text transform="translate(375.52,460.60)" text-anchor="middle" font-size="7.00" fill="#262626" stroke="#262626" stroke-width="0.12" textLength="9.70" lengthAdjust="spacingAndGlyphs">0.4</text>
<line x1="393.98" y1="452.80" x2="393.98" y2="455.10" stroke="#1e1e1e" stroke-width="1.0" />
<text transform="translate(393.98,460.60)" text-anchor="middle" font-size="7.00" fill="#262626" stroke="#262626" stroke-width="0.12" textLength="9.70" lengthAdjust="spacingAndGlyphs">0.6</text>
<line x1="412.44" y1="452.80" x2="412.44" y2="455.10" stroke="#1e1e1e" stroke-width="1.0" />
<text transform="translate(412.44,460.60)" text-anchor="middle" font-size="7.00" fill="#262626" stroke="#262626" stroke-width="0.12" textLength="9.70" lengthAdjust="spacingAndGlyphs">0.8</text>
<line x1="430.90" y1="452.80" x2="430.90" y2="455.10" stroke="#1e1e1e" stroke-width="1.0" />
<text transform="translate(430.90,460.60)" text-anchor="middle" font-size="7.00" fill="#262626" stroke="#262626" stroke-width="0.12" textLength="9.70" lengthAdjust="spacingAndGlyphs">1.0</text>
<text transform="translate(384.20,468.70)" text-anchor="middle" font-size="8.40" fill="#262626" stroke="#262626" stroke-width="0.12" textLength="49.58" lengthAdjust="spacingAndGlyphs">MMRd Recall</text>
<text transform="translate(322.00,395.20) rotate(-90)" text-anchor="middle" font-size="8.40" fill="#262626" stroke="#262626" stroke-width="0.12" textLength="61.11" lengthAdjust="spacingAndGlyphs">MMRd Precision</text>
<text x="310.20" y="333.00" font-size="15" font-weight="bold" fill="#000">f</text>
<polyline points="466.90,71.50 468.40,65.00 470.40,58.00 472.80,55.70 475.10,47.70 483.30,44.80 484.20,38.10 495.00,36.30 502.00,34.60 508.60,30.60 515.00,29.00 524.40,25.90 526.90,21.40 551.40,21.40" fill="none" stroke="#cd5c5c" stroke-width="1.1" stroke-linejoin="miter" />
<polyline points="466.70,21.20 466.70,25.80 525.20,25.80 530.30,31.20 535.00,34.60 536.60,36.00 539.00,44.00 541.90,57.40 543.80,73.60 546.60,78.40 547.20,85.00 550.90,125.80" fill="none" stroke="#228b22" stroke-width="1.4" stroke-linejoin="miter" />
<line x1="524.80" y1="18.40" x2="524.80" y2="130.60" stroke="#0000ff" stroke-width="2.1" stroke-dasharray="2.1 3.13"/>
<rect x="473.00" y="92.60" width="70.30" height="35.50" rx="1.5" fill="#ffffff" fill-opacity="0.8" stroke="#d0d0d0" stroke-width="0.7"/>
<line x1="474.80" y1="97.70" x2="488.00" y2="97.70" stroke="#cd5c5c" stroke-width="1.1" />
<text transform="translate(492.40,99.90)" text-anchor="start" font-size="6.35" fill="#262626" stroke="#262626" stroke-width="0.12" textLength="26.33" lengthAdjust="spacingAndGlyphs">Precision</text>
<line x1="474.80" y1="106.40" x2="488.00" y2="106.40" stroke="#228b22" stroke-width="1.4" />
<text transform="translate(492.40,108.60)" text-anchor="start" font-size="6.35" fill="#262626" stroke="#262626" stroke-width="0.12" textLength="17.60" lengthAdjust="spacingAndGlyphs">Recall</text>
<line x1="475.20" y1="119.30" x2="488.00" y2="119.30" stroke="#0000ff" stroke-width="2.1" stroke-dasharray="2.1 3.2"/>
<text transform="translate(492.40,117.30)" text-anchor="start" font-size="6.35" fill="#262626" stroke="#262626" stroke-width="0.12" textLength="47.93" lengthAdjust="spacingAndGlyphs">F-Score=0.98 at</text>
<text transform="translate(492.40,124.20)" text-anchor="start" font-size="6.35" fill="#262626" stroke="#262626" stroke-width="0.12" textLength="45.87" lengthAdjust="spacingAndGlyphs">threshold=0.69</text>
<line x1="460.95" y1="16.00" x2="460.95" y2="131.10" stroke="#3a3a3a" stroke-width="1.4" />
<line x1="460.45" y1="130.60" x2="555.00" y2="130.60" stroke="#3a3a3a" stroke-width="1.4" />
<line x1="458.65" y1="130.40" x2="460.95" y2="130.40" stroke="#1e1e1e" stroke-width="1.0" />
<text transform="translate(458.10,133.30)" text-anchor="end" font-size="7.00" fill="#262626" stroke="#262626" stroke-width="0.12" textLength="9.70" lengthAdjust="spacingAndGlyphs">0.0</text>
<line x1="458.65" y1="108.62" x2="460.95" y2="108.62" stroke="#1e1e1e" stroke-width="1.0" />
<text transform="translate(458.10,111.52)" text-anchor="end" font-size="7.00" fill="#262626" stroke="#262626" stroke-width="0.12" textLength="9.70" lengthAdjust="spacingAndGlyphs">0.2</text>
<line x1="458.65" y1="86.84" x2="460.95" y2="86.84" stroke="#1e1e1e" stroke-width="1.0" />
<text transform="translate(458.10,89.74)" text-anchor="end" font-size="7.00" fill="#262626" stroke="#262626" stroke-width="0.12" textLength="9.70" lengthAdjust="spacingAndGlyphs">0.4</text>
<line x1="458.65" y1="65.06" x2="460.95" y2="65.06" stroke="#1e1e1e" stroke-width="1.0" />
<text transform="translate(458.10,67.96)" text-anchor="end" font-size="7.00" fill="#262626" stroke="#262626" stroke-width="0.12" textLength="9.70" lengthAdjust="spacingAndGlyphs">0.6</text>
<line x1="458.65" y1="43.28" x2="460.95" y2="43.28" stroke="#1e1e1e" stroke-width="1.0" />
<text transform="translate(458.10,46.18)" text-anchor="end" font-size="7.00" fill="#262626" stroke="#262626" stroke-width="0.12" textLength="9.70" lengthAdjust="spacingAndGlyphs">0.8</text>
<line x1="458.65" y1="21.50" x2="460.95" y2="21.50" stroke="#1e1e1e" stroke-width="1.0" />
<text transform="translate(458.10,24.40)" text-anchor="end" font-size="7.00" fill="#262626" stroke="#262626" stroke-width="0.12" textLength="9.70" lengthAdjust="spacingAndGlyphs">1.0</text>
<line x1="461.00" y1="130.60" x2="461.00" y2="132.90" stroke="#1e1e1e" stroke-width="1.0" />
<text transform="translate(461.00,138.60)" text-anchor="middle" font-size="7.00" fill="#262626" stroke="#262626" stroke-width="0.12" textLength="9.70" lengthAdjust="spacingAndGlyphs">0.0</text>
<line x1="479.48" y1="130.60" x2="479.48" y2="132.90" stroke="#1e1e1e" stroke-width="1.0" />
<text transform="translate(479.48,138.60)" text-anchor="middle" font-size="7.00" fill="#262626" stroke="#262626" stroke-width="0.12" textLength="9.70" lengthAdjust="spacingAndGlyphs">0.2</text>
<line x1="497.96" y1="130.60" x2="497.96" y2="132.90" stroke="#1e1e1e" stroke-width="1.0" />
<text transform="translate(497.96,138.60)" text-anchor="middle" font-size="7.00" fill="#262626" stroke="#262626" stroke-width="0.12" textLength="9.70" lengthAdjust="spacingAndGlyphs">0.4</text>
<line x1="516.44" y1="130.60" x2="516.44" y2="132.90" stroke="#1e1e1e" stroke-width="1.0" />
<text transform="translate(516.44,138.60)" text-anchor="middle" font-size="7.00" fill="#262626" stroke="#262626" stroke-width="0.12" textLength="9.70" lengthAdjust="spacingAndGlyphs">0.6</text>
<line x1="534.92" y1="130.60" x2="534.92" y2="132.90" stroke="#1e1e1e" stroke-width="1.0" />
<text transform="translate(534.92,138.60)" text-anchor="middle" font-size="7.00" fill="#262626" stroke="#262626" stroke-width="0.12" textLength="9.70" lengthAdjust="spacingAndGlyphs">0.8</text>
<line x1="553.40" y1="130.60" x2="553.40" y2="132.90" stroke="#1e1e1e" stroke-width="1.0" />
<text transform="translate(553.40,138.60)" text-anchor="middle" font-size="7.00" fill="#262626" stroke="#262626" stroke-width="0.12" textLength="9.70" lengthAdjust="spacingAndGlyphs">1.0</text>
<text transform="translate(508.00,146.60)" text-anchor="middle" font-size="8.40" fill="#262626" stroke="#262626" stroke-width="0.12" textLength="107.68" lengthAdjust="spacingAndGlyphs">BRCA2d Decision Threshold</text>
<text transform="translate(445.70,73.70) rotate(-90)" text-anchor="middle" font-size="8.40" fill="#262626" stroke="#262626" stroke-width="0.12" textLength="55.40" lengthAdjust="spacingAndGlyphs">BRCA2d Score</text>
<text x="509.85" y="16.50" text-anchor="middle" font-size="8.5" fill="#111" textLength="64.30" lengthAdjust="spacingAndGlyphs">BRCA2d Metrics</text>
<polyline points="464.60,233.30 466.80,202.80 469.50,205.40 484.70,195.30 500.00,196.50 511.20,197.10 517.10,199.00 520.80,182.70 544.70,182.70" fill="none" stroke="#cd5c5c" stroke-width="1.1" stroke-linejoin="miter" />
<polyline points="464.60,181.90 464.60,193.80 466.50,193.80 469.50,205.40 484.70,205.40 500.00,212.40 511.20,217.30 517.60,228.40 520.80,228.80 526.80,235.00 533.50,241.00 540.90,252.90 543.90,287.10" fill="none" stroke="#228b22" stroke-width="1.4" stroke-linejoin="miter" />
<line x1="466.50" y1="179.40" x2="466.50" y2="291.60" stroke="#0000ff" stroke-width="2.1" stroke-dasharray="2.1 3.13"/>
<rect x="473.00" y="253.60" width="70.30" height="35.50" rx="1.5" fill="#ffffff" fill-opacity="0.8" stroke="#d0d0d0" stroke-width="0.7"/>
<line x1="474.80" y1="258.70" x2="488.00" y2="258.70" stroke="#cd5c5c" stroke-width="1.1" />
<text transform="translate(492.40,260.90)" text-anchor="start" font-size="6.35" fill="#262626" stroke="#262626" stroke-width="0.12" textLength="26.33" lengthAdjust="spacingAndGlyphs">Precision</text>
<line x1="474.80" y1="267.40" x2="488.00" y2="267.40" stroke="#228b22" stroke-width="1.4" />
<text transform="translate(492.40,269.60)" text-anchor="start" font-size="6.35" fill="#262626" stroke="#262626" stroke-width="0.12" textLength="17.60" lengthAdjust="spacingAndGlyphs">Recall</text>
<line x1="475.20" y1="280.30" x2="488.00" y2="280.30" stroke="#0000ff" stroke-width="2.1" stroke-dasharray="2.1 3.2"/>
<text transform="translate(492.40,278.30)" text-anchor="start" font-size="6.35" fill="#262626" stroke="#262626" stroke-width="0.12" textLength="47.93" lengthAdjust="spacingAndGlyphs">F-Score=0.86 at</text>
<text transform="translate(492.40,285.20)" text-anchor="start" font-size="6.35" fill="#262626" stroke="#262626" stroke-width="0.12" textLength="45.87" lengthAdjust="spacingAndGlyphs">threshold=0.06</text>
<line x1="460.95" y1="177.00" x2="460.95" y2="292.10" stroke="#3a3a3a" stroke-width="1.4" />
<line x1="460.45" y1="291.60" x2="555.00" y2="291.60" stroke="#3a3a3a" stroke-width="1.4" />
<line x1="458.65" y1="274.90" x2="460.95" y2="274.90" stroke="#1e1e1e" stroke-width="1.0" />
<text transform="translate(458.10,277.80)" text-anchor="end" font-size="7.00" fill="#262626" stroke="#262626" stroke-width="0.12" textLength="9.70" lengthAdjust="spacingAndGlyphs">0.2</text>
<line x1="458.65" y1="251.85" x2="460.95" y2="251.85" stroke="#1e1e1e" stroke-width="1.0" />
<text transform="translate(458.10,254.75)" text-anchor="end" font-size="7.00" fill="#262626" stroke="#262626" stroke-width="0.12" textLength="9.70" lengthAdjust="spacingAndGlyphs">0.4</text>
<line x1="458.65" y1="228.80" x2="460.95" y2="228.80" stroke="#1e1e1e" stroke-width="1.0" />
<text transform="translate(458.10,231.70)" text-anchor="end" font-size="7.00" fill="#262626" stroke="#262626" stroke-width="0.12" textLength="9.70" lengthAdjust="spacingAndGlyphs">0.6</text>
<line x1="458.65" y1="205.75" x2="460.95" y2="205.75" stroke="#1e1e1e" stroke-width="1.0" />
<text transform="translate(458.10,208.65)" text-anchor="end" font-size="7.00" fill="#262626" stroke="#262626" stroke-width="0.12" textLength="9.70" lengthAdjust="spacingAndGlyphs">0.8</text>
<line x1="458.65" y1="182.70" x2="460.95" y2="182.70" stroke="#1e1e1e" stroke-width="1.0" />
<text transform="translate(458.10,185.60)" text-anchor="end" font-size="7.00" fill="#262626" stroke="#262626" stroke-width="0.12" textLength="9.70" lengthAdjust="spacingAndGlyphs">1.0</text>
<line x1="461.00" y1="291.60" x2="461.00" y2="293.90" stroke="#1e1e1e" stroke-width="1.0" />
<text transform="translate(461.00,299.60)" text-anchor="middle" font-size="7.00" fill="#262626" stroke="#262626" stroke-width="0.12" textLength="9.70" lengthAdjust="spacingAndGlyphs">0.0</text>
<line x1="479.48" y1="291.60" x2="479.48" y2="293.90" stroke="#1e1e1e" stroke-width="1.0" />
<text transform="translate(479.48,299.60)" text-anchor="middle" font-size="7.00" fill="#262626" stroke="#262626" stroke-width="0.12" textLength="9.70" lengthAdjust="spacingAndGlyphs">0.2</text>
<line x1="497.96" y1="291.60" x2="497.96" y2="293.90" stroke="#1e1e1e" stroke-width="1.0" />
<text transform="translate(497.96,299.60)" text-anchor="middle" font-size="7.00" fill="#262626" stroke="#262626" stroke-width="0.12" textLength="9.70" lengthAdjust="spacingAndGlyphs">0.4</text>
<line x1="516.44" y1="291.60" x2="516.44" y2="293.90" stroke="#1e1e1e" stroke-width="1.0" />
<text transform="translate(516.44,299.60)" text-anchor="middle" font-size="7.00" fill="#262626" stroke="#262626" stroke-width="0.12" textLength="9.70" lengthAdjust="spacingAndGlyphs">0.6</text>
<line x1="534.92" y1="291.60" x2="534.92" y2="293.90" stroke="#1e1e1e" stroke-width="1.0" />
<text transform="translate(534.92,299.60)" text-anchor="middle" font-size="7.00" fill="#262626" stroke="#262626" stroke-width="0.12" textLength="9.70" lengthAdjust="spacingAndGlyphs">0.8</text>
<line x1="553.40" y1="291.60" x2="553.40" y2="293.90" stroke="#1e1e1e" stroke-width="1.0" />
<text transform="translate(553.40,299.60)" text-anchor="middle" font-size="7.00" fill="#262626" stroke="#262626" stroke-width="0.12" textLength="9.70" lengthAdjust="spacingAndGlyphs">1.0</text>
<text transform="translate(508.00,307.60)" text-anchor="middle" font-size="8.40" fill="#262626" stroke="#262626" stroke-width="0.12" textLength="108.05" lengthAdjust="spacingAndGlyphs">CDK12d Decision Threshold</text>
<text transform="translate(445.70,234.70) rotate(-90)" text-anchor="middle" font-size="8.40" fill="#262626" stroke="#262626" stroke-width="0.12" textLength="55.77" lengthAdjust="spacingAndGlyphs">CDK12d Score</text>
<text x="509.85" y="177.50" text-anchor="middle" font-size="8.5" fill="#111" textLength="63.33" lengthAdjust="spacingAndGlyphs">CDK12d Metrics</text>
<polyline points="521.20,343.40 550.80,343.40" fill="none" stroke="#cd5c5c" stroke-width="1.1" stroke-linejoin="miter" />
<polyline points="521.20,343.40 523.20,351.10 526.30,357.20 534.40,364.10 535.00,371.00 542.40,377.90 543.20,390.00 546.40,398.80 549.90,448.30" fill="none" stroke="#228b22" stroke-width="1.4" stroke-linejoin="miter" />
<line x1="467.30" y1="340.40" x2="467.30" y2="453.10" stroke="#0000ff" stroke-width="2.1" stroke-dasharray="2.1 3.13"/>
<rect x="473.00" y="414.60" width="70.30" height="35.50" rx="1.5" fill="#ffffff" fill-opacity="0.8" stroke="#d0d0d0" stroke-width="0.7"/>
<line x1="474.80" y1="419.70" x2="488.00" y2="419.70" stroke="#cd5c5c" stroke-width="1.1" />
<text transform="translate(492.40,421.90)" text-anchor="start" font-size="6.35" fill="#262626" stroke="#262626" stroke-width="0.12" textLength="26.33" lengthAdjust="spacingAndGlyphs">Precision</text>
<line x1="474.80" y1="428.40" x2="488.00" y2="428.40" stroke="#228b22" stroke-width="1.4" />
<text transform="translate(492.40,430.60)" text-anchor="start" font-size="6.35" fill="#262626" stroke="#262626" stroke-width="0.12" textLength="17.60" lengthAdjust="spacingAndGlyphs">Recall</text>
<line x1="475.20" y1="441.30" x2="488.00" y2="441.30" stroke="#0000ff" stroke-width="2.1" stroke-dasharray="2.1 3.2"/>
<text transform="translate(492.40,439.30)" text-anchor="start" font-size="6.35" fill="#262626" stroke="#262626" stroke-width="0.12" textLength="47.93" lengthAdjust="spacingAndGlyphs">F-Score=1.00 at</text>
<text transform="translate(492.40,446.20)" text-anchor="start" font-size="6.35" fill="#262626" stroke="#262626" stroke-width="0.12" textLength="45.87" lengthAdjust="spacingAndGlyphs">threshold=0.07</text>
<line x1="460.95" y1="338.00" x2="460.95" y2="453.60" stroke="#3a3a3a" stroke-width="1.4" />
<line x1="460.45" y1="453.10" x2="555.00" y2="453.10" stroke="#3a3a3a" stroke-width="1.4" />
<line x1="458.65" y1="432.20" x2="460.95" y2="432.20" stroke="#1e1e1e" stroke-width="1.0" />
<text transform="translate(458.10,435.10)" text-anchor="end" font-size="7.00" fill="#262626" stroke="#262626" stroke-width="0.12" textLength="9.70" lengthAdjust="spacingAndGlyphs">0.2</text>
<line x1="458.65" y1="410.00" x2="460.95" y2="410.00" stroke="#1e1e1e" stroke-width="1.0" />
<text transform="translate(458.10,412.90)" text-anchor="end" font-size="7.00" fill="#262626" stroke="#262626" stroke-width="0.12" textLength="9.70" lengthAdjust="spacingAndGlyphs">0.4</text>
<line x1="458.65" y1="387.80" x2="460.95" y2="387.80" stroke="#1e1e1e" stroke-width="1.0" />
<text transform="translate(458.10,390.70)" text-anchor="end" font-size="7.00" fill="#262626" stroke="#262626" stroke-width="0.12" textLength="9.70" lengthAdjust="spacingAndGlyphs">0.6</text>
<line x1="458.65" y1="365.60" x2="460.95" y2="365.60" stroke="#1e1e1e" stroke-width="1.0" />
<text transform="translate(458.10,368.50)" text-anchor="end" font-size="7.00" fill="#262626" stroke="#262626" stroke-width="0.12" textLength="9.70" lengthAdjust="spacingAndGlyphs">0.8</text>
<line x1="458.65" y1="343.40" x2="460.95" y2="343.40" stroke="#1e1e1e" stroke-width="1.0" />
<text transform="translate(458.10,346.30)" text-anchor="end" font-size="7.00" fill="#262626" stroke="#262626" stroke-width="0.12" textLength="9.70" lengthAdjust="spacingAndGlyphs">1.0</text>
<line x1="461.00" y1="453.10" x2="461.00" y2="455.40" stroke="#1e1e1e" stroke-width="1.0" />
<text transform="translate(461.00,461.10)" text-anchor="middle" font-size="7.00" fill="#262626" stroke="#262626" stroke-width="0.12" textLength="9.70" lengthAdjust="spacingAndGlyphs">0.0</text>
<line x1="479.48" y1="453.10" x2="479.48" y2="455.40" stroke="#1e1e1e" stroke-width="1.0" />
<text transform="translate(479.48,461.10)" text-anchor="middle" font-size="7.00" fill="#262626" stroke="#262626" stroke-width="0.12" textLength="9.70" lengthAdjust="spacingAndGlyphs">0.2</text>
<line x1="497.96" y1="453.10" x2="497.96" y2="455.40" stroke="#1e1e1e" stroke-width="1.0" />
<text transform="translate(497.96,461.10)" text-anchor="middle" font-size="7.00" fill="#262626" stroke="#262626" stroke-width="0.12" textLength="9.70" lengthAdjust="spacingAndGlyphs">0.4</text>
<line x1="516.44" y1="453.10" x2="516.44" y2="455.40" stroke="#1e1e1e" stroke-width="1.0" />
<text transform="translate(516.44,461.10)" text-anchor="middle" font-size="7.00" fill="#262626" stroke="#262626" stroke-width="0.12" textLength="9.70" lengthAdjust="spacingAndGlyphs">0.6</text>
<line x1="534.92" y1="453.10" x2="534.92" y2="455.40" stroke="#1e1e1e" stroke-width="1.0" />
<text transform="translate(534.92,461.10)" text-anchor="middle" font-size="7.00" fill="#262626" stroke="#262626" stroke-width="0.12" textLength="9.70" lengthAdjust="spacingAndGlyphs">0.8</text>
<line x1="553.40" y1="453.10" x2="553.40" y2="455.40" stroke="#1e1e1e" stroke-width="1.0" />
<text transform="translate(553.40,461.10)" text-anchor="middle" font-size="7.00" fill="#262626" stroke="#262626" stroke-width="0.12" textLength="9.70" lengthAdjust="spacingAndGlyphs">1.0</text>
<text transform="translate(508.00,469.10)" text-anchor="middle" font-size="8.40" fill="#262626" stroke="#262626" stroke-width="0.12" textLength="100.44" lengthAdjust="spacingAndGlyphs">MMRd Decision Threshold</text>
<text transform="translate(445.70,395.70) rotate(-90)" text-anchor="middle" font-size="8.40" fill="#262626" stroke="#262626" stroke-width="0.12" textLength="48.16" lengthAdjust="spacingAndGlyphs">MMRd Score</text>
<text x="509.85" y="338.50" text-anchor="middle" font-size="8.5" fill="#111" textLength="56.07" lengthAdjust="spacingAndGlyphs">MMRd Metrics</text>
<polyline points="586.17,130.90 586.17,23.28 602.63,23.28 602.63,18.80 677.84,18.80" fill="none" stroke="#ff8c00" stroke-width="1.4" stroke-linejoin="miter" />
<line x1="585.80" y1="130.90" x2="678.30" y2="18.80" stroke="#000080" stroke-width="1.4" stroke-dasharray="5.5 2.4"/>
<rect x="588.50" y="116.50" width="94.80" height="11.50" rx="1.5" fill="#ffffff" fill-opacity="0.8" stroke="#d0d0d0" stroke-width="0.7"/>
<line x1="590.80" y1="121.80" x2="604.20" y2="121.80" stroke="#ff8c00" stroke-width="1.4" />
<text transform="translate(607.60,124.00)" text-anchor="start" font-size="6.35" fill="#262626" stroke="#262626" stroke-width="0.12" textLength="72.74" lengthAdjust="spacingAndGlyphs">ROC curve (area = 0.99)</text>
<line x1="583.90" y1="16.00" x2="583.90" y2="131.40" stroke="#3a3a3a" stroke-width="1.4" />
<line x1="583.40" y1="130.90" x2="678.60" y2="130.90" stroke="#3a3a3a" stroke-width="1.4" />
<line x1="581.60" y1="130.90" x2="583.90" y2="130.90" stroke="#1e1e1e" stroke-width="1.0" />
<text transform="translate(581.20,133.80)" text-anchor="end" font-size="7.00" fill="#262626" stroke="#262626" stroke-width="0.12" textLength="9.70" lengthAdjust="spacingAndGlyphs">0.0</text>
<line x1="581.60" y1="108.48" x2="583.90" y2="108.48" stroke="#1e1e1e" stroke-width="1.0" />
<text transform="translate(581.20,111.38)" text-anchor="end" font-size="7.00" fill="#262626" stroke="#262626" stroke-width="0.12" textLength="9.70" lengthAdjust="spacingAndGlyphs">0.2</text>
<line x1="581.60" y1="86.06" x2="583.90" y2="86.06" stroke="#1e1e1e" stroke-width="1.0" />
<text transform="translate(581.20,88.96)" text-anchor="end" font-size="7.00" fill="#262626" stroke="#262626" stroke-width="0.12" textLength="9.70" lengthAdjust="spacingAndGlyphs">0.4</text>
<line x1="581.60" y1="63.64" x2="583.90" y2="63.64" stroke="#1e1e1e" stroke-width="1.0" />
<text transform="translate(581.20,66.54)" text-anchor="end" font-size="7.00" fill="#262626" stroke="#262626" stroke-width="0.12" textLength="9.70" lengthAdjust="spacingAndGlyphs">0.6</text>
<line x1="581.60" y1="41.22" x2="583.90" y2="41.22" stroke="#1e1e1e" stroke-width="1.0" />
<text transform="translate(581.20,44.12)" text-anchor="end" font-size="7.00" fill="#262626" stroke="#262626" stroke-width="0.12" textLength="9.70" lengthAdjust="spacingAndGlyphs">0.8</text>
<line x1="581.60" y1="18.80" x2="583.90" y2="18.80" stroke="#1e1e1e" stroke-width="1.0" />
<text transform="translate(581.20,21.70)" text-anchor="end" font-size="7.00" fill="#262626" stroke="#262626" stroke-width="0.12" textLength="9.70" lengthAdjust="spacingAndGlyphs">1.0</text>
<line x1="585.80" y1="130.90" x2="585.80" y2="133.20" stroke="#1e1e1e" stroke-width="1.0" />
<text transform="translate(585.80,138.50)" text-anchor="middle" font-size="7.00" fill="#262626" stroke="#262626" stroke-width="0.12" textLength="9.70" lengthAdjust="spacingAndGlyphs">0.0</text>
<line x1="604.30" y1="130.90" x2="604.30" y2="133.20" stroke="#1e1e1e" stroke-width="1.0" />
<text transform="translate(604.30,138.50)" text-anchor="middle" font-size="7.00" fill="#262626" stroke="#262626" stroke-width="0.12" textLength="9.70" lengthAdjust="spacingAndGlyphs">0.2</text>
<line x1="622.80" y1="130.90" x2="622.80" y2="133.20" stroke="#1e1e1e" stroke-width="1.0" />
<text transform="translate(622.80,138.50)" text-anchor="middle" font-size="7.00" fill="#262626" stroke="#262626" stroke-width="0.12" textLength="9.70" lengthAdjust="spacingAndGlyphs">0.4</text>
<line x1="641.30" y1="130.90" x2="641.30" y2="133.20" stroke="#1e1e1e" stroke-width="1.0" />
<text transform="translate(641.30,138.50)" text-anchor="middle" font-size="7.00" fill="#262626" stroke="#262626" stroke-width="0.12" textLength="9.70" lengthAdjust="spacingAndGlyphs">0.6</text>
<line x1="659.80" y1="130.90" x2="659.80" y2="133.20" stroke="#1e1e1e" stroke-width="1.0" />
<text transform="translate(659.80,138.50)" text-anchor="middle" font-size="7.00" fill="#262626" stroke="#262626" stroke-width="0.12" textLength="9.70" lengthAdjust="spacingAndGlyphs">0.8</text>
<line x1="678.30" y1="130.90" x2="678.30" y2="133.20" stroke="#1e1e1e" stroke-width="1.0" />
<text transform="translate(678.30,138.50)" text-anchor="middle" font-size="7.00" fill="#262626" stroke="#262626" stroke-width="0.12" textLength="9.70" lengthAdjust="spacingAndGlyphs">1.0</text>
<text transform="translate(631.20,146.40)" text-anchor="middle" font-size="8.40" fill="#262626" stroke="#262626" stroke-width="0.12" textLength="106.05" lengthAdjust="spacingAndGlyphs">BRCA2d False Positive Rate</text>
<text transform="translate(569.00,73.20) rotate(-90)" text-anchor="middle" font-size="8.40" fill="#262626" stroke="#262626" stroke-width="0.12" textLength="103.04" lengthAdjust="spacingAndGlyphs">BRCA2d True Positive Rate</text>
<polyline points="585.89,291.90 585.89,224.64 586.82,224.64 586.82,202.22 587.37,202.22 587.37,191.01 591.63,191.01 591.63,179.80 677.84,179.80" fill="none" stroke="#ff8c00" stroke-width="1.4" stroke-linejoin="miter" />
<line x1="585.80" y1="291.90" x2="678.30" y2="179.80" stroke="#000080" stroke-width="1.4" stroke-dasharray="5.5 2.4"/>
<rect x="588.50" y="277.50" width="94.80" height="11.50" rx="1.5" fill="#ffffff" fill-opacity="0.8" stroke="#d0d0d0" stroke-width="0.7"/>
<line x1="590.80" y1="282.80" x2="604.20" y2="282.80" stroke="#ff8c00" stroke-width="1.4" />
<text transform="translate(607.60,285.00)" text-anchor="start" font-size="6.35" fill="#262626" stroke="#262626" stroke-width="0.12" textLength="72.74" lengthAdjust="spacingAndGlyphs">ROC curve (area = 0.99)</text>
<line x1="583.90" y1="177.00" x2="583.90" y2="292.40" stroke="#3a3a3a" stroke-width="1.4" />
<line x1="583.40" y1="291.90" x2="678.60" y2="291.90" stroke="#3a3a3a" stroke-width="1.4" />
<line x1="581.60" y1="291.90" x2="583.90" y2="291.90" stroke="#1e1e1e" stroke-width="1.0" />
<text transform="translate(581.20,294.80)" text-anchor="end" font-size="7.00" fill="#262626" stroke="#262626" stroke-width="0.12" textLength="9.70" lengthAdjust="spacingAndGlyphs">0.0</text>
<line x1="581.60" y1="269.48" x2="583.90" y2="269.48" stroke="#1e1e1e" stroke-width="1.0" />
<text transform="translate(581.20,272.38)" text-anchor="end" font-size="7.00" fill="#262626" stroke="#262626" stroke-width="0.12" textLength="9.70" lengthAdjust="spacingAndGlyphs">0.2</text>
<line x1="581.60" y1="247.06" x2="583.90" y2="247.06" stroke="#1e1e1e" stroke-width="1.0" />
<text transform="translate(581.20,249.96)" text-anchor="end" font-size="7.00" fill="#262626" stroke="#262626" stroke-width="0.12" textLength="9.70" lengthAdjust="spacingAndGlyphs">0.4</text>
<line x1="581.60" y1="224.64" x2="583.90" y2="224.64" stroke="#1e1e1e" stroke-width="1.0" />
<text transform="translate(581.20,227.54)" text-anchor="end" font-size="7.00" fill="#262626" stroke="#262626" stroke-width="0.12" textLength="9.70" lengthAdjust="spacingAndGlyphs">0.6</text>
<line x1="581.60" y1="202.22" x2="583.90" y2="202.22" stroke="#1e1e1e" stroke-width="1.0" />
<text transform="translate(581.20,205.12)" text-anchor="end" font-size="7.00" fill="#262626" stroke="#262626" stroke-width="0.12" textLength="9.70" lengthAdjust="spacingAndGlyphs">0.8</text>
<line x1="581.60" y1="179.80" x2="583.90" y2="179.80" stroke="#1e1e1e" stroke-width="1.0" />
<text transform="translate(581.20,182.70)" text-anchor="end" font-size="7.00" fill="#262626" stroke="#262626" stroke-width="0.12" textLength="9.70" lengthAdjust="spacingAndGlyphs">1.0</text>
<line x1="585.80" y1="291.90" x2="585.80" y2="294.20" stroke="#1e1e1e" stroke-width="1.0" />
<text transform="translate(585.80,299.50)" text-anchor="middle" font-size="7.00" fill="#262626" stroke="#262626" stroke-width="0.12" textLength="9.70" lengthAdjust="spacingAndGlyphs">0.0</text>
<line x1="604.30" y1="291.90" x2="604.30" y2="294.20" stroke="#1e1e1e" stroke-width="1.0" />
<text transform="translate(604.30,299.50)" text-anchor="middle" font-size="7.00" fill="#262626" stroke="#262626" stroke-width="0.12" textLength="9.70" lengthAdjust="spacingAndGlyphs">0.2</text>
<line x1="622.80" y1="291.90" x2="622.80" y2="294.20" stroke="#1e1e1e" stroke-width="1.0" />
<text transform="translate(622.80,299.50)" text-anchor="middle" font-size="7.00" fill="#262626" stroke="#262626" stroke-width="0.12" textLength="9.70" lengthAdjust="spacingAndGlyphs">0.4</text>
<line x1="641.30" y1="291.90" x2="641.30" y2="294.20" stroke="#1e1e1e" stroke-width="1.0" />
<text transform="translate(641.30,299.50)" text-anchor="middle" font-size="7.00" fill="#262626" stroke="#262626" stroke-width="0.12" textLength="9.70" lengthAdjust="spacingAndGlyphs">0.6</text>
<line x1="659.80" y1="291.90" x2="659.80" y2="294.20" stroke="#1e1e1e" stroke-width="1.0" />
<text transform="translate(659.80,299.50)" text-anchor="middle" font-size="7.00" fill="#262626" stroke="#262626" stroke-width="0.12" textLength="9.70" lengthAdjust="spacingAndGlyphs">0.8</text>
<line x1="678.30" y1="291.90" x2="678.30" y2="294.20" stroke="#1e1e1e" stroke-width="1.0" />
<text transform="translate(678.30,299.50)" text-anchor="middle" font-size="7.00" fill="#262626" stroke="#262626" stroke-width="0.12" textLength="9.70" lengthAdjust="spacingAndGlyphs">1.0</text>
<text transform="translate(631.20,307.40)" text-anchor="middle" font-size="8.40" fill="#262626" stroke="#262626" stroke-width="0.12" textLength="106.42" lengthAdjust="spacingAndGlyphs">CDK12d False Positive Rate</text>
<text transform="translate(569.00,234.20) rotate(-90)" text-anchor="middle" font-size="8.40" fill="#262626" stroke="#262626" stroke-width="0.12" textLength="103.40" lengthAdjust="spacingAndGlyphs">CDK12d True Positive Rate</text>
<polyline points="586.17,452.90 586.17,340.80 677.84,340.80" fill="none" stroke="#ff8c00" stroke-width="1.4" stroke-linejoin="miter" />
<line x1="585.80" y1="452.90" x2="678.30" y2="340.80" stroke="#000080" stroke-width="1.4" stroke-dasharray="5.5 2.4"/>
<rect x="588.50" y="438.50" width="94.80" height="11.50" rx="1.5" fill="#ffffff" fill-opacity="0.8" stroke="#d0d0d0" stroke-width="0.7"/>
<line x1="590.80" y1="443.80" x2="604.20" y2="443.80" stroke="#ff8c00" stroke-width="1.4" />
<text transform="translate(607.60,446.00)" text-anchor="start" font-size="6.35" fill="#262626" stroke="#262626" stroke-width="0.12" textLength="72.74" lengthAdjust="spacingAndGlyphs">ROC curve (area = 1.00)</text>
<line x1="583.90" y1="338.00" x2="583.90" y2="453.40" stroke="#3a3a3a" stroke-width="1.4" />
<line x1="583.40" y1="452.90" x2="678.60" y2="452.90" stroke="#3a3a3a" stroke-width="1.4" />
<line x1="581.60" y1="452.90" x2="583.90" y2="452.90" stroke="#1e1e1e" stroke-width="1.0" />
<text transform="translate(581.20,455.80)" text-anchor="end" font-size="7.00" fill="#262626" stroke="#262626" stroke-width="0.12" textLength="9.70" lengthAdjust="spacingAndGlyphs">0.0</text>
<line x1="581.60" y1="430.48" x2="583.90" y2="430.48" stroke="#1e1e1e" stroke-width="1.0" />
<text transform="translate(581.20,433.38)" text-anchor="end" font-size="7.00" fill="#262626" stroke="#262626" stroke-width="0.12" textLength="9.70" lengthAdjust="spacingAndGlyphs">0.2</text>
<line x1="581.60" y1="408.06" x2="583.90" y2="408.06" stroke="#1e1e1e" stroke-width="1.0" />
<text transform="translate(581.20,410.96)" text-anchor="end" font-size="7.00" fill="#262626" stroke="#262626" stroke-width="0.12" textLength="9.70" lengthAdjust="spacingAndGlyphs">0.4</text>
<line x1="581.60" y1="385.64" x2="583.90" y2="385.64" stroke="#1e1e1e" stroke-width="1.0" />
<text transform="translate(581.20,388.54)" text-anchor="end" font-size="7.00" fill="#262626" stroke="#262626" stroke-width="0.12" textLength="9.70" lengthAdjust="spacingAndGlyphs">0.6</text>
<line x1="581.60" y1="363.22" x2="583.90" y2="363.22" stroke="#1e1e1e" stroke-width="1.0" />
<text transform="translate(581.20,366.12)" text-anchor="end" font-size="7.00" fill="#262626" stroke="#262626" stroke-width="0.12" textLength="9.70" lengthAdjust="spacingAndGlyphs">0.8</text>
<line x1="581.60" y1="340.80" x2="583.90" y2="340.80" stroke="#1e1e1e" stroke-width="1.0" />
<text transform="translate(581.20,343.70)" text-anchor="end" font-size="7.00" fill="#262626" stroke="#262626" stroke-width="0.12" textLength="9.70" lengthAdjust="spacingAndGlyphs">1.0</text>
<line x1="585.80" y1="452.90" x2="585.80" y2="455.20" stroke="#1e1e1e" stroke-width="1.0" />
<text transform="translate(585.80,460.50)" text-anchor="middle" font-size="7.00" fill="#262626" stroke="#262626" stroke-width="0.12" textLength="9.70" lengthAdjust="spacingAndGlyphs">0.0</text>
<line x1="604.30" y1="452.90" x2="604.30" y2="455.20" stroke="#1e1e1e" stroke-width="1.0" />
<text transform="translate(604.30,460.50)" text-anchor="middle" font-size="7.00" fill="#262626" stroke="#262626" stroke-width="0.12" textLength="9.70" lengthAdjust="spacingAndGlyphs">0.2</text>
<line x1="622.80" y1="452.90" x2="622.80" y2="455.20" stroke="#1e1e1e" stroke-width="1.0" />
<text transform="translate(622.80,460.50)" text-anchor="middle" font-size="7.00" fill="#262626" stroke="#262626" stroke-width="0.12" textLength="9.70" lengthAdjust="spacingAndGlyphs">0.4</text>
<line x1="641.30" y1="452.90" x2="641.30" y2="455.20" stroke="#1e1e1e" stroke-width="1.0" />
<text transform="translate(641.30,460.50)" text-anchor="middle" font-size="7.00" fill="#262626" stroke="#262626" stroke-width="0.12" textLength="9.70" lengthAdjust="spacingAndGlyphs">0.6</text>
<line x1="659.80" y1="452.90" x2="659.80" y2="455.20" stroke="#1e1e1e" stroke-width="1.0" />
<text transform="translate(659.80,460.50)" text-anchor="middle" font-size="7.00" fill="#262626" stroke="#262626" stroke-width="0.12" textLength="9.70" lengthAdjust="spacingAndGlyphs">0.8</text>
<line x1="678.30" y1="452.90" x2="678.30" y2="455.20" stroke="#1e1e1e" stroke-width="1.0" />
<text transform="translate(678.30,460.50)" text-anchor="middle" font-size="7.00" fill="#262626" stroke="#262626" stroke-width="0.12" textLength="9.70" lengthAdjust="spacingAndGlyphs">1.0</text>
<text transform="translate(631.20,468.40)" text-anchor="middle" font-size="8.40" fill="#262626" stroke="#262626" stroke-width="0.12" textLength="98.80" lengthAdjust="spacingAndGlyphs">MMRd False Positive Rate</text>
<text transform="translate(569.00,395.20) rotate(-90)" text-anchor="middle" font-size="8.40" fill="#262626" stroke="#262626" stroke-width="0.12" textLength="95.79" lengthAdjust="spacingAndGlyphs">MMRd True Positive Rate</text>
</svg></body></html>
